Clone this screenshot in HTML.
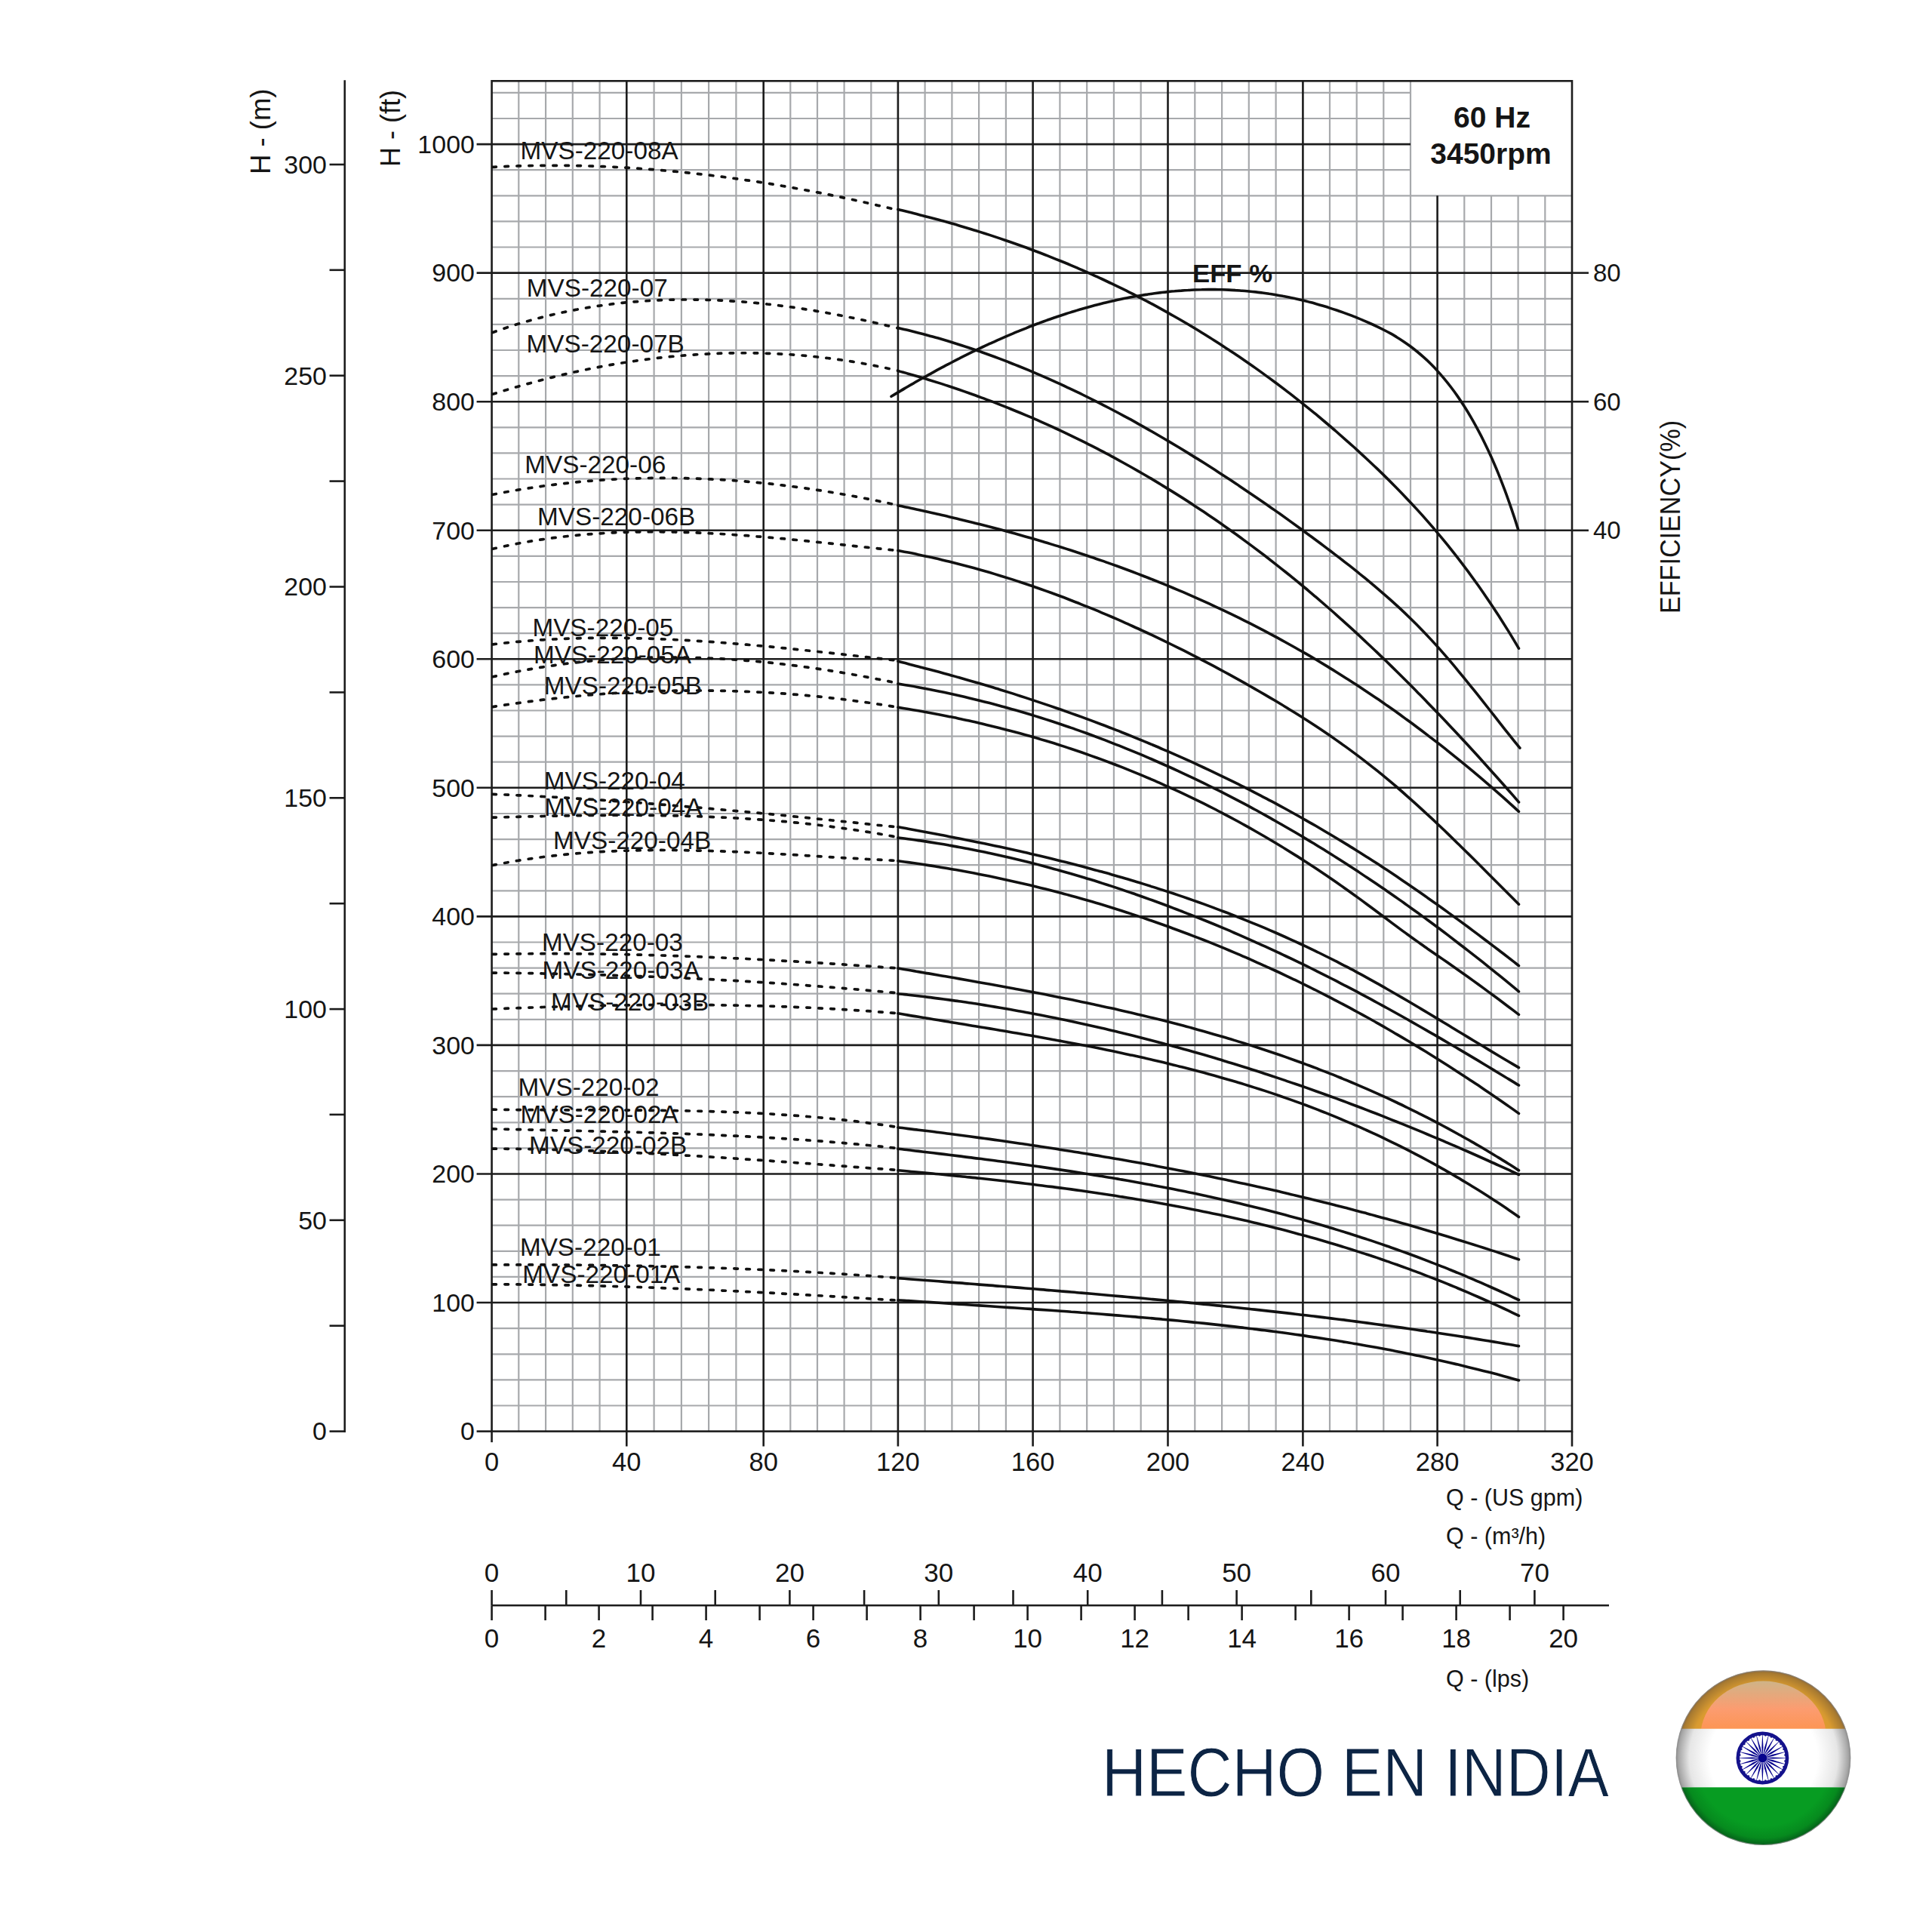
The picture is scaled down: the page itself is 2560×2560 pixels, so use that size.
<!DOCTYPE html>
<html><head><meta charset="utf-8"><style>
html,body{margin:0;padding:0;background:#fff;width:2560px;height:2560px;overflow:hidden}
svg{display:block}
text{font-family:"Liberation Sans", sans-serif;fill:#151515}
.big{font-family:"Liberation Sans", sans-serif;fill:#0c2444}
</style></head><body>
<svg width="2560" height="2560" viewBox="0 0 2560 2560">
<rect width="2560" height="2560" fill="#fff"/>
<line x1="687.3" y1="107.3" x2="687.3" y2="1896.6" stroke="#a7a9ac" stroke-width="2.2"/>
<line x1="723.1" y1="107.3" x2="723.1" y2="1896.6" stroke="#a7a9ac" stroke-width="2.2"/>
<line x1="758.8" y1="107.3" x2="758.8" y2="1896.6" stroke="#a7a9ac" stroke-width="2.2"/>
<line x1="794.6" y1="107.3" x2="794.6" y2="1896.6" stroke="#a7a9ac" stroke-width="2.2"/>
<line x1="866.6" y1="107.3" x2="866.6" y2="1896.6" stroke="#a7a9ac" stroke-width="2.2"/>
<line x1="902.9" y1="107.3" x2="902.9" y2="1896.6" stroke="#a7a9ac" stroke-width="2.2"/>
<line x1="939.1" y1="107.3" x2="939.1" y2="1896.6" stroke="#a7a9ac" stroke-width="2.2"/>
<line x1="975.4" y1="107.3" x2="975.4" y2="1896.6" stroke="#a7a9ac" stroke-width="2.2"/>
<line x1="1047.3" y1="107.3" x2="1047.3" y2="1896.6" stroke="#a7a9ac" stroke-width="2.2"/>
<line x1="1083.0" y1="107.3" x2="1083.0" y2="1896.6" stroke="#a7a9ac" stroke-width="2.2"/>
<line x1="1118.6" y1="107.3" x2="1118.6" y2="1896.6" stroke="#a7a9ac" stroke-width="2.2"/>
<line x1="1154.3" y1="107.3" x2="1154.3" y2="1896.6" stroke="#a7a9ac" stroke-width="2.2"/>
<line x1="1225.6" y1="107.3" x2="1225.6" y2="1896.6" stroke="#a7a9ac" stroke-width="2.2"/>
<line x1="1261.4" y1="107.3" x2="1261.4" y2="1896.6" stroke="#a7a9ac" stroke-width="2.2"/>
<line x1="1297.1" y1="107.3" x2="1297.1" y2="1896.6" stroke="#a7a9ac" stroke-width="2.2"/>
<line x1="1332.9" y1="107.3" x2="1332.9" y2="1896.6" stroke="#a7a9ac" stroke-width="2.2"/>
<line x1="1404.4" y1="107.3" x2="1404.4" y2="1896.6" stroke="#a7a9ac" stroke-width="2.2"/>
<line x1="1440.2" y1="107.3" x2="1440.2" y2="1896.6" stroke="#a7a9ac" stroke-width="2.2"/>
<line x1="1475.9" y1="107.3" x2="1475.9" y2="1896.6" stroke="#a7a9ac" stroke-width="2.2"/>
<line x1="1511.7" y1="107.3" x2="1511.7" y2="1896.6" stroke="#a7a9ac" stroke-width="2.2"/>
<line x1="1583.3" y1="107.3" x2="1583.3" y2="1896.6" stroke="#a7a9ac" stroke-width="2.2"/>
<line x1="1619.1" y1="107.3" x2="1619.1" y2="1896.6" stroke="#a7a9ac" stroke-width="2.2"/>
<line x1="1654.8" y1="107.3" x2="1654.8" y2="1896.6" stroke="#a7a9ac" stroke-width="2.2"/>
<line x1="1690.6" y1="107.3" x2="1690.6" y2="1896.6" stroke="#a7a9ac" stroke-width="2.2"/>
<line x1="1762.0" y1="107.3" x2="1762.0" y2="1896.6" stroke="#a7a9ac" stroke-width="2.2"/>
<line x1="1797.7" y1="107.3" x2="1797.7" y2="1896.6" stroke="#a7a9ac" stroke-width="2.2"/>
<line x1="1833.3" y1="107.3" x2="1833.3" y2="1896.6" stroke="#a7a9ac" stroke-width="2.2"/>
<line x1="1869.0" y1="107.3" x2="1869.0" y2="1896.6" stroke="#a7a9ac" stroke-width="2.2"/>
<line x1="1940.3" y1="259.3" x2="1940.3" y2="1896.6" stroke="#a7a9ac" stroke-width="2.2"/>
<line x1="1976.0" y1="259.3" x2="1976.0" y2="1896.6" stroke="#a7a9ac" stroke-width="2.2"/>
<line x1="2011.6" y1="259.3" x2="2011.6" y2="1896.6" stroke="#a7a9ac" stroke-width="2.2"/>
<line x1="2047.3" y1="259.3" x2="2047.3" y2="1896.6" stroke="#a7a9ac" stroke-width="2.2"/>
<line x1="651.6" y1="1862.5" x2="2083.0" y2="1862.5" stroke="#a7a9ac" stroke-width="2.2"/>
<line x1="651.6" y1="1828.4" x2="2083.0" y2="1828.4" stroke="#a7a9ac" stroke-width="2.2"/>
<line x1="651.6" y1="1794.3" x2="2083.0" y2="1794.3" stroke="#a7a9ac" stroke-width="2.2"/>
<line x1="651.6" y1="1760.2" x2="2083.0" y2="1760.2" stroke="#a7a9ac" stroke-width="2.2"/>
<line x1="651.6" y1="1691.9" x2="2083.0" y2="1691.9" stroke="#a7a9ac" stroke-width="2.2"/>
<line x1="651.6" y1="1657.8" x2="2083.0" y2="1657.8" stroke="#a7a9ac" stroke-width="2.2"/>
<line x1="651.6" y1="1623.7" x2="2083.0" y2="1623.7" stroke="#a7a9ac" stroke-width="2.2"/>
<line x1="651.6" y1="1589.6" x2="2083.0" y2="1589.6" stroke="#a7a9ac" stroke-width="2.2"/>
<line x1="651.6" y1="1521.4" x2="2083.0" y2="1521.4" stroke="#a7a9ac" stroke-width="2.2"/>
<line x1="651.6" y1="1487.3" x2="2083.0" y2="1487.3" stroke="#a7a9ac" stroke-width="2.2"/>
<line x1="651.6" y1="1453.2" x2="2083.0" y2="1453.2" stroke="#a7a9ac" stroke-width="2.2"/>
<line x1="651.6" y1="1419.1" x2="2083.0" y2="1419.1" stroke="#a7a9ac" stroke-width="2.2"/>
<line x1="651.6" y1="1350.8" x2="2083.0" y2="1350.8" stroke="#a7a9ac" stroke-width="2.2"/>
<line x1="651.6" y1="1316.7" x2="2083.0" y2="1316.7" stroke="#a7a9ac" stroke-width="2.2"/>
<line x1="651.6" y1="1282.6" x2="2083.0" y2="1282.6" stroke="#a7a9ac" stroke-width="2.2"/>
<line x1="651.6" y1="1248.5" x2="2083.0" y2="1248.5" stroke="#a7a9ac" stroke-width="2.2"/>
<line x1="651.6" y1="1180.3" x2="2083.0" y2="1180.3" stroke="#a7a9ac" stroke-width="2.2"/>
<line x1="651.6" y1="1146.2" x2="2083.0" y2="1146.2" stroke="#a7a9ac" stroke-width="2.2"/>
<line x1="651.6" y1="1112.1" x2="2083.0" y2="1112.1" stroke="#a7a9ac" stroke-width="2.2"/>
<line x1="651.6" y1="1078.0" x2="2083.0" y2="1078.0" stroke="#a7a9ac" stroke-width="2.2"/>
<line x1="651.6" y1="1009.7" x2="2083.0" y2="1009.7" stroke="#a7a9ac" stroke-width="2.2"/>
<line x1="651.6" y1="975.6" x2="2083.0" y2="975.6" stroke="#a7a9ac" stroke-width="2.2"/>
<line x1="651.6" y1="941.5" x2="2083.0" y2="941.5" stroke="#a7a9ac" stroke-width="2.2"/>
<line x1="651.6" y1="907.4" x2="2083.0" y2="907.4" stroke="#a7a9ac" stroke-width="2.2"/>
<line x1="651.6" y1="839.2" x2="2083.0" y2="839.2" stroke="#a7a9ac" stroke-width="2.2"/>
<line x1="651.6" y1="805.1" x2="2083.0" y2="805.1" stroke="#a7a9ac" stroke-width="2.2"/>
<line x1="651.6" y1="771.0" x2="2083.0" y2="771.0" stroke="#a7a9ac" stroke-width="2.2"/>
<line x1="651.6" y1="736.9" x2="2083.0" y2="736.9" stroke="#a7a9ac" stroke-width="2.2"/>
<line x1="651.6" y1="668.6" x2="2083.0" y2="668.6" stroke="#a7a9ac" stroke-width="2.2"/>
<line x1="651.6" y1="634.5" x2="2083.0" y2="634.5" stroke="#a7a9ac" stroke-width="2.2"/>
<line x1="651.6" y1="600.4" x2="2083.0" y2="600.4" stroke="#a7a9ac" stroke-width="2.2"/>
<line x1="651.6" y1="566.3" x2="2083.0" y2="566.3" stroke="#a7a9ac" stroke-width="2.2"/>
<line x1="651.6" y1="498.1" x2="2083.0" y2="498.1" stroke="#a7a9ac" stroke-width="2.2"/>
<line x1="651.6" y1="464.0" x2="2083.0" y2="464.0" stroke="#a7a9ac" stroke-width="2.2"/>
<line x1="651.6" y1="429.9" x2="2083.0" y2="429.9" stroke="#a7a9ac" stroke-width="2.2"/>
<line x1="651.6" y1="395.8" x2="2083.0" y2="395.8" stroke="#a7a9ac" stroke-width="2.2"/>
<line x1="651.6" y1="327.5" x2="2083.0" y2="327.5" stroke="#a7a9ac" stroke-width="2.2"/>
<line x1="651.6" y1="293.4" x2="2083.0" y2="293.4" stroke="#a7a9ac" stroke-width="2.2"/>
<line x1="651.6" y1="259.3" x2="2083.0" y2="259.3" stroke="#a7a9ac" stroke-width="2.2"/>
<line x1="651.6" y1="225.2" x2="1869.0" y2="225.2" stroke="#a7a9ac" stroke-width="2.2"/>
<line x1="651.6" y1="157.0" x2="1869.0" y2="157.0" stroke="#a7a9ac" stroke-width="2.2"/>
<line x1="651.6" y1="122.9" x2="1869.0" y2="122.9" stroke="#a7a9ac" stroke-width="2.2"/>
<line x1="830.3" y1="107.3" x2="830.3" y2="1916.6" stroke="#1c1c1c" stroke-width="2.6"/>
<line x1="1011.7" y1="107.3" x2="1011.7" y2="1916.6" stroke="#1c1c1c" stroke-width="2.6"/>
<line x1="1189.9" y1="107.3" x2="1189.9" y2="1916.6" stroke="#1c1c1c" stroke-width="2.6"/>
<line x1="1368.6" y1="107.3" x2="1368.6" y2="1916.6" stroke="#1c1c1c" stroke-width="2.6"/>
<line x1="1547.5" y1="107.3" x2="1547.5" y2="1916.6" stroke="#1c1c1c" stroke-width="2.6"/>
<line x1="1726.4" y1="107.3" x2="1726.4" y2="1916.6" stroke="#1c1c1c" stroke-width="2.6"/>
<line x1="1904.6" y1="259.3" x2="1904.6" y2="1916.6" stroke="#1c1c1c" stroke-width="2.6"/>
<line x1="631.6" y1="1726.0" x2="2083.0" y2="1726.0" stroke="#1c1c1c" stroke-width="2.6"/>
<line x1="631.6" y1="1555.5" x2="2083.0" y2="1555.5" stroke="#1c1c1c" stroke-width="2.6"/>
<line x1="631.6" y1="1384.9" x2="2083.0" y2="1384.9" stroke="#1c1c1c" stroke-width="2.6"/>
<line x1="631.6" y1="1214.4" x2="2083.0" y2="1214.4" stroke="#1c1c1c" stroke-width="2.6"/>
<line x1="631.6" y1="1043.8" x2="2083.0" y2="1043.8" stroke="#1c1c1c" stroke-width="2.6"/>
<line x1="631.6" y1="873.3" x2="2083.0" y2="873.3" stroke="#1c1c1c" stroke-width="2.6"/>
<line x1="631.6" y1="702.8" x2="2083.0" y2="702.8" stroke="#1c1c1c" stroke-width="2.6"/>
<line x1="631.6" y1="532.2" x2="2083.0" y2="532.2" stroke="#1c1c1c" stroke-width="2.6"/>
<line x1="631.6" y1="361.6" x2="2083.0" y2="361.6" stroke="#1c1c1c" stroke-width="2.6"/>
<line x1="631.6" y1="191.1" x2="1869.0" y2="191.1" stroke="#1c1c1c" stroke-width="2.6"/>
<rect x="651.6" y="107.3" width="1431.4" height="1789.3" fill="none" stroke="#1c1c1c" stroke-width="2.6"/>
<line x1="631.6" y1="1896.6" x2="651.6" y2="1896.6" stroke="#1c1c1c" stroke-width="2.6"/>
<line x1="651.6" y1="1896.6" x2="651.6" y2="1911.1" stroke="#1c1c1c" stroke-width="2.6"/>
<line x1="2083.0" y1="1896.6" x2="2083.0" y2="1916.6" stroke="#1c1c1c" stroke-width="2.6"/>
<line x1="2083.0" y1="361.6" x2="2105.0" y2="361.6" stroke="#1c1c1c" stroke-width="2.6"/>
<text x="2111.0" y="373.1" font-size="33">80</text>
<line x1="2083.0" y1="532.2" x2="2105.0" y2="532.2" stroke="#1c1c1c" stroke-width="2.6"/>
<text x="2111.0" y="543.7" font-size="33">60</text>
<line x1="2083.0" y1="702.8" x2="2105.0" y2="702.8" stroke="#1c1c1c" stroke-width="2.6"/>
<text x="2111.0" y="714.2" font-size="33">40</text>
<text x="629" y="1908.4" font-size="34" text-anchor="end">0</text>
<text x="629" y="1737.8" font-size="34" text-anchor="end">100</text>
<text x="629" y="1567.3" font-size="34" text-anchor="end">200</text>
<text x="629" y="1396.7" font-size="34" text-anchor="end">300</text>
<text x="629" y="1226.2" font-size="34" text-anchor="end">400</text>
<text x="629" y="1055.6" font-size="34" text-anchor="end">500</text>
<text x="629" y="885.1" font-size="34" text-anchor="end">600</text>
<text x="629" y="714.5" font-size="34" text-anchor="end">700</text>
<text x="629" y="544.0" font-size="34" text-anchor="end">800</text>
<text x="629" y="373.4" font-size="34" text-anchor="end">900</text>
<text x="629" y="202.9" font-size="34" text-anchor="end">1000</text>
<text x="651.6" y="1949.4" font-size="34.5" text-anchor="middle">0</text>
<text x="830.3" y="1949.4" font-size="34.5" text-anchor="middle">40</text>
<text x="1011.7" y="1949.4" font-size="34.5" text-anchor="middle">80</text>
<text x="1189.9" y="1949.4" font-size="34.5" text-anchor="middle">120</text>
<text x="1368.6" y="1949.4" font-size="34.5" text-anchor="middle">160</text>
<text x="1547.5" y="1949.4" font-size="34.5" text-anchor="middle">200</text>
<text x="1726.4" y="1949.4" font-size="34.5" text-anchor="middle">240</text>
<text x="1904.6" y="1949.4" font-size="34.5" text-anchor="middle">280</text>
<text x="2083.0" y="1949.4" font-size="34.5" text-anchor="middle">320</text>
<line x1="456.8" y1="106.3" x2="456.8" y2="1898.0" stroke="#1c1c1c" stroke-width="2.6"/>
<line x1="436.6" y1="1896.6" x2="456.8" y2="1896.6" stroke="#1c1c1c" stroke-width="2.6"/>
<text x="433" y="1908.4" font-size="34" text-anchor="end">0</text>
<line x1="436.6" y1="1756.7" x2="456.8" y2="1756.7" stroke="#1c1c1c" stroke-width="2.6"/>
<line x1="436.6" y1="1616.8" x2="456.8" y2="1616.8" stroke="#1c1c1c" stroke-width="2.6"/>
<text x="433" y="1628.6" font-size="34" text-anchor="end">50</text>
<line x1="436.6" y1="1476.9" x2="456.8" y2="1476.9" stroke="#1c1c1c" stroke-width="2.6"/>
<line x1="436.6" y1="1337.1" x2="456.8" y2="1337.1" stroke="#1c1c1c" stroke-width="2.6"/>
<text x="433" y="1348.9" font-size="34" text-anchor="end">100</text>
<line x1="436.6" y1="1197.2" x2="456.8" y2="1197.2" stroke="#1c1c1c" stroke-width="2.6"/>
<line x1="436.6" y1="1057.3" x2="456.8" y2="1057.3" stroke="#1c1c1c" stroke-width="2.6"/>
<text x="433" y="1069.1" font-size="34" text-anchor="end">150</text>
<line x1="436.6" y1="917.4" x2="456.8" y2="917.4" stroke="#1c1c1c" stroke-width="2.6"/>
<line x1="436.6" y1="777.5" x2="456.8" y2="777.5" stroke="#1c1c1c" stroke-width="2.6"/>
<text x="433" y="789.3" font-size="34" text-anchor="end">200</text>
<line x1="436.6" y1="637.6" x2="456.8" y2="637.6" stroke="#1c1c1c" stroke-width="2.6"/>
<line x1="436.6" y1="497.7" x2="456.8" y2="497.7" stroke="#1c1c1c" stroke-width="2.6"/>
<text x="433" y="509.5" font-size="34" text-anchor="end">250</text>
<line x1="436.6" y1="357.8" x2="456.8" y2="357.8" stroke="#1c1c1c" stroke-width="2.6"/>
<line x1="436.6" y1="218.0" x2="456.8" y2="218.0" stroke="#1c1c1c" stroke-width="2.6"/>
<text x="433" y="229.8" font-size="34" text-anchor="end">300</text>
<text transform="translate(358,231) rotate(-90)" font-size="36.5">H - (m)</text>
<text transform="translate(529.5,221) rotate(-90)" font-size="36">H - (ft)</text>
<text transform="translate(2225.5,813) rotate(-90)" font-size="36" textLength="256" lengthAdjust="spacingAndGlyphs">EFFICIENCY(%)</text>
<text x="1977" y="169" font-size="39" font-weight="bold" text-anchor="middle">60 Hz</text>
<text x="1975.5" y="216.6" font-size="39" font-weight="bold" text-anchor="middle">3450rpm</text>
<text x="1580" y="374" font-size="34" font-weight="bold" textLength="106" lengthAdjust="spacingAndGlyphs">EFF %</text>
<text x="1916" y="1995" font-size="30.5">Q - (US gpm)</text>
<text x="1916" y="2045.6" font-size="30.5">Q - (m³/h)</text>
<text x="1916" y="2234.8" font-size="30.5">Q - (lps)</text>
<line x1="651.6" y1="2127.2" x2="2132" y2="2127.2" stroke="#1c1c1c" stroke-width="2.6"/>
<line x1="651.6" y1="2107" x2="651.6" y2="2127.2" stroke="#1c1c1c" stroke-width="2.6"/>
<text x="651.6" y="2096" font-size="35" text-anchor="middle">0</text>
<line x1="750.3" y1="2107" x2="750.3" y2="2127.2" stroke="#1c1c1c" stroke-width="2.6"/>
<line x1="849.0" y1="2107" x2="849.0" y2="2127.2" stroke="#1c1c1c" stroke-width="2.6"/>
<text x="849.0" y="2096" font-size="35" text-anchor="middle">10</text>
<line x1="947.7" y1="2107" x2="947.7" y2="2127.2" stroke="#1c1c1c" stroke-width="2.6"/>
<line x1="1046.4" y1="2107" x2="1046.4" y2="2127.2" stroke="#1c1c1c" stroke-width="2.6"/>
<text x="1046.4" y="2096" font-size="35" text-anchor="middle">20</text>
<line x1="1145.1" y1="2107" x2="1145.1" y2="2127.2" stroke="#1c1c1c" stroke-width="2.6"/>
<line x1="1243.8" y1="2107" x2="1243.8" y2="2127.2" stroke="#1c1c1c" stroke-width="2.6"/>
<text x="1243.8" y="2096" font-size="35" text-anchor="middle">30</text>
<line x1="1342.5" y1="2107" x2="1342.5" y2="2127.2" stroke="#1c1c1c" stroke-width="2.6"/>
<line x1="1441.2" y1="2107" x2="1441.2" y2="2127.2" stroke="#1c1c1c" stroke-width="2.6"/>
<text x="1441.2" y="2096" font-size="35" text-anchor="middle">40</text>
<line x1="1539.9" y1="2107" x2="1539.9" y2="2127.2" stroke="#1c1c1c" stroke-width="2.6"/>
<line x1="1638.6" y1="2107" x2="1638.6" y2="2127.2" stroke="#1c1c1c" stroke-width="2.6"/>
<text x="1638.6" y="2096" font-size="35" text-anchor="middle">50</text>
<line x1="1737.3" y1="2107" x2="1737.3" y2="2127.2" stroke="#1c1c1c" stroke-width="2.6"/>
<line x1="1836.0" y1="2107" x2="1836.0" y2="2127.2" stroke="#1c1c1c" stroke-width="2.6"/>
<text x="1836.0" y="2096" font-size="35" text-anchor="middle">60</text>
<line x1="1934.7" y1="2107" x2="1934.7" y2="2127.2" stroke="#1c1c1c" stroke-width="2.6"/>
<line x1="2033.4" y1="2107" x2="2033.4" y2="2127.2" stroke="#1c1c1c" stroke-width="2.6"/>
<text x="2033.4" y="2096" font-size="35" text-anchor="middle">70</text>
<line x1="651.6" y1="2127.2" x2="651.6" y2="2147" stroke="#1c1c1c" stroke-width="2.6"/>
<text x="651.6" y="2182.6" font-size="35" text-anchor="middle">0</text>
<line x1="722.6" y1="2127.2" x2="722.6" y2="2147" stroke="#1c1c1c" stroke-width="2.6"/>
<line x1="793.6" y1="2127.2" x2="793.6" y2="2147" stroke="#1c1c1c" stroke-width="2.6"/>
<text x="793.6" y="2182.6" font-size="35" text-anchor="middle">2</text>
<line x1="864.6" y1="2127.2" x2="864.6" y2="2147" stroke="#1c1c1c" stroke-width="2.6"/>
<line x1="935.6" y1="2127.2" x2="935.6" y2="2147" stroke="#1c1c1c" stroke-width="2.6"/>
<text x="935.6" y="2182.6" font-size="35" text-anchor="middle">4</text>
<line x1="1006.6" y1="2127.2" x2="1006.6" y2="2147" stroke="#1c1c1c" stroke-width="2.6"/>
<line x1="1077.6" y1="2127.2" x2="1077.6" y2="2147" stroke="#1c1c1c" stroke-width="2.6"/>
<text x="1077.6" y="2182.6" font-size="35" text-anchor="middle">6</text>
<line x1="1148.6" y1="2127.2" x2="1148.6" y2="2147" stroke="#1c1c1c" stroke-width="2.6"/>
<line x1="1219.6" y1="2127.2" x2="1219.6" y2="2147" stroke="#1c1c1c" stroke-width="2.6"/>
<text x="1219.6" y="2182.6" font-size="35" text-anchor="middle">8</text>
<line x1="1290.6" y1="2127.2" x2="1290.6" y2="2147" stroke="#1c1c1c" stroke-width="2.6"/>
<line x1="1361.6" y1="2127.2" x2="1361.6" y2="2147" stroke="#1c1c1c" stroke-width="2.6"/>
<text x="1361.6" y="2182.6" font-size="35" text-anchor="middle">10</text>
<line x1="1432.6" y1="2127.2" x2="1432.6" y2="2147" stroke="#1c1c1c" stroke-width="2.6"/>
<line x1="1503.6" y1="2127.2" x2="1503.6" y2="2147" stroke="#1c1c1c" stroke-width="2.6"/>
<text x="1503.6" y="2182.6" font-size="35" text-anchor="middle">12</text>
<line x1="1574.6" y1="2127.2" x2="1574.6" y2="2147" stroke="#1c1c1c" stroke-width="2.6"/>
<line x1="1645.6" y1="2127.2" x2="1645.6" y2="2147" stroke="#1c1c1c" stroke-width="2.6"/>
<text x="1645.6" y="2182.6" font-size="35" text-anchor="middle">14</text>
<line x1="1716.6" y1="2127.2" x2="1716.6" y2="2147" stroke="#1c1c1c" stroke-width="2.6"/>
<line x1="1787.6" y1="2127.2" x2="1787.6" y2="2147" stroke="#1c1c1c" stroke-width="2.6"/>
<text x="1787.6" y="2182.6" font-size="35" text-anchor="middle">16</text>
<line x1="1858.6" y1="2127.2" x2="1858.6" y2="2147" stroke="#1c1c1c" stroke-width="2.6"/>
<line x1="1929.6" y1="2127.2" x2="1929.6" y2="2147" stroke="#1c1c1c" stroke-width="2.6"/>
<text x="1929.6" y="2182.6" font-size="35" text-anchor="middle">18</text>
<line x1="2000.6" y1="2127.2" x2="2000.6" y2="2147" stroke="#1c1c1c" stroke-width="2.6"/>
<line x1="2071.6" y1="2127.2" x2="2071.6" y2="2147" stroke="#1c1c1c" stroke-width="2.6"/>
<text x="2071.6" y="2182.6" font-size="35" text-anchor="middle">20</text>

<path d="M652.9,221.4C655.2,221.2 661.9,220.9 666.3,220.7C670.8,220.5 675.2,220.3 679.7,220.2C684.1,220.0 688.6,219.9 693.0,219.8C697.5,219.7 702.0,219.6 706.4,219.5C710.9,219.4 715.3,219.4 719.8,219.3C724.2,219.3 728.7,219.3 733.2,219.3C737.6,219.3 742.1,219.3 746.5,219.3C751.0,219.4 755.4,219.4 759.9,219.5C764.3,219.6 768.8,219.7 773.3,219.8C777.7,219.9 782.2,220.0 786.6,220.2C791.1,220.3 795.5,220.5 800.0,220.7C804.5,220.9 808.9,221.1 813.4,221.3C817.8,221.5 822.3,221.8 826.7,222.0C831.2,222.3 835.7,222.6 840.3,222.9C844.8,223.2 849.3,223.5 853.8,223.8C858.3,224.1 862.9,224.5 867.4,224.9C871.9,225.2 876.4,225.6 881.0,226.0C885.5,226.4 890.0,226.8 894.5,227.2C899.1,227.7 903.6,228.1 908.1,228.6C912.6,229.1 917.2,229.6 921.7,230.1C926.2,230.6 930.7,231.1 935.3,231.6C939.8,232.1 944.3,232.7 948.8,233.3C953.3,233.8 957.9,234.4 962.4,235.0C966.9,235.6 971.4,236.2 976.0,236.8C980.5,237.5 985.0,238.1 989.5,238.8C994.1,239.4 998.6,240.1 1003.1,240.8C1007.6,241.5 1012.1,242.2 1016.6,242.9C1021.1,243.7 1025.5,244.4 1029.9,245.2C1034.4,245.9 1038.8,246.7 1043.3,247.5C1047.7,248.3 1052.1,249.1 1056.6,249.9C1061.0,250.7 1065.5,251.5 1069.9,252.4C1074.4,253.2 1078.8,254.1 1083.2,254.9C1087.7,255.8 1092.1,256.7 1096.6,257.6C1101.0,258.5 1105.5,259.4 1109.9,260.3C1114.4,261.3 1118.8,262.2 1123.2,263.2C1127.7,264.1 1132.1,265.1 1136.6,266.1C1141.0,267.1 1145.5,268.1 1149.9,269.1C1154.3,270.1 1158.8,271.1 1163.2,272.2C1167.7,273.2 1172.1,274.3 1176.6,275.3C1181.0,276.4 1187.7,278.0 1189.9,278.6" fill="none" stroke="#111" stroke-width="3.7" stroke-dasharray="4.6 11.4" stroke-linecap="round"/>
<path d="M1189.9,277.5C1192.1,278.1 1198.9,279.7 1203.4,280.8C1207.9,281.9 1212.4,283.0 1216.9,284.2C1221.4,285.3 1225.9,286.5 1230.4,287.7C1234.9,288.9 1239.4,290.1 1243.9,291.3C1248.4,292.5 1252.9,293.8 1257.4,295.1C1261.8,296.3 1266.3,297.6 1270.8,298.9C1275.3,300.3 1279.8,301.6 1284.3,303.0C1288.8,304.3 1293.3,305.7 1297.8,307.1C1302.3,308.5 1306.8,310.0 1311.3,311.4C1315.8,312.9 1320.3,314.4 1324.8,315.9C1329.3,317.4 1333.8,319.0 1338.3,320.5C1342.8,322.1 1347.3,323.7 1351.8,325.3C1356.3,326.9 1360.8,328.5 1365.3,330.2C1369.8,331.9 1374.3,333.6 1378.8,335.3C1383.3,337.0 1387.8,338.8 1392.3,340.6C1396.8,342.4 1401.3,344.2 1405.8,346.0C1410.3,347.8 1414.8,349.7 1419.3,351.6C1423.8,353.5 1428.3,355.4 1432.8,357.4C1437.3,359.4 1441.8,361.3 1446.3,363.4C1450.8,365.4 1455.3,367.4 1459.8,369.5C1464.3,371.6 1468.8,373.7 1473.3,375.9C1477.8,378.0 1482.3,380.2 1486.8,382.4C1491.3,384.6 1495.8,386.9 1500.3,389.2C1504.8,391.4 1509.3,393.8 1513.8,396.1C1518.3,398.4 1522.8,400.8 1527.3,403.2C1531.8,405.7 1536.3,408.1 1540.8,410.6C1545.3,413.1 1549.8,415.6 1554.3,418.2C1558.8,420.7 1563.4,423.3 1567.9,426.0C1572.4,428.6 1576.9,431.3 1581.4,434.0C1585.9,436.7 1590.4,439.4 1594.9,442.2C1599.4,445.0 1603.9,447.8 1608.4,450.7C1612.9,453.5 1617.4,456.4 1621.9,459.4C1626.4,462.3 1630.9,465.3 1635.4,468.3C1639.9,471.3 1644.4,474.4 1648.9,477.5C1653.4,480.6 1657.9,483.7 1662.4,486.9C1666.9,490.1 1671.4,493.3 1675.9,496.6C1680.4,499.8 1684.9,503.1 1689.4,506.5C1693.9,509.8 1698.4,513.2 1702.9,516.7C1707.4,520.1 1711.9,523.6 1716.4,527.1C1720.9,530.6 1725.4,534.2 1729.9,537.8C1734.4,541.4 1738.9,545.0 1743.4,548.7C1747.8,552.4 1752.3,556.2 1756.8,560.0C1761.3,563.8 1765.8,567.6 1770.3,571.5C1774.7,575.4 1779.2,579.3 1783.7,583.3C1788.2,587.2 1792.7,591.3 1797.2,595.3C1801.7,599.4 1806.1,603.5 1810.6,607.7C1815.1,611.9 1819.6,616.1 1824.1,620.4C1828.6,624.7 1833.0,629.0 1837.5,633.4C1842.0,637.9 1846.5,642.4 1851.0,646.9C1855.5,651.5 1859.9,656.1 1864.4,660.9C1868.9,665.6 1873.4,670.4 1877.9,675.4C1882.4,680.3 1886.9,685.3 1891.3,690.4C1895.8,695.5 1900.3,700.7 1904.8,706.1C1909.3,711.4 1913.8,716.8 1918.3,722.4C1922.7,728.0 1927.2,733.6 1931.7,739.4C1936.2,745.2 1940.7,751.2 1945.2,757.2C1949.7,763.3 1954.2,769.5 1958.7,775.8C1963.2,782.2 1967.6,788.6 1972.1,795.3C1976.6,801.9 1981.1,808.7 1985.6,815.6C1990.1,822.6 1994.6,829.7 1999.1,836.9C2003.6,844.2 2010.3,855.5 2012.5,859.2" fill="none" stroke="#111" stroke-width="3.6" stroke-linecap="round" stroke-linejoin="round"/>
<path d="M652.9,440.5C655.2,439.7 661.9,437.3 666.3,435.8C670.8,434.3 675.2,432.8 679.7,431.4C684.1,430.0 688.6,428.7 693.0,427.3C697.5,426.0 702.0,424.8 706.4,423.5C710.9,422.3 715.3,421.1 719.8,420.0C724.2,418.9 728.7,417.8 733.2,416.7C737.6,415.7 742.1,414.7 746.5,413.7C751.0,412.8 755.4,411.9 759.9,411.0C764.3,410.1 768.8,409.3 773.3,408.5C777.7,407.8 782.2,407.0 786.6,406.3C791.1,405.6 795.5,405.0 800.0,404.3C804.5,403.7 808.9,403.2 813.4,402.6C817.8,402.1 822.3,401.6 826.7,401.1C831.2,400.7 835.7,400.3 840.3,399.9C844.8,399.5 849.3,399.2 853.8,398.9C858.3,398.6 862.9,398.3 867.4,398.1C871.9,397.8 876.4,397.7 881.0,397.5C885.5,397.3 890.0,397.2 894.5,397.1C899.1,397.1 903.6,397.0 908.1,397.0C912.6,397.0 917.2,397.0 921.7,397.1C926.2,397.1 930.7,397.2 935.3,397.3C939.8,397.5 944.3,397.6 948.8,397.8C953.3,398.0 957.9,398.2 962.4,398.5C966.9,398.7 971.4,399.0 976.0,399.3C980.5,399.6 985.0,400.0 989.5,400.3C994.1,400.7 998.6,401.1 1003.1,401.6C1007.6,402.0 1012.1,402.5 1016.6,403.0C1021.1,403.4 1025.5,404.0 1029.9,404.5C1034.4,405.1 1038.8,405.6 1043.3,406.2C1047.7,406.8 1052.1,407.5 1056.6,408.1C1061.0,408.8 1065.5,409.5 1069.9,410.2C1074.4,410.9 1078.8,411.6 1083.2,412.4C1087.7,413.1 1092.1,413.9 1096.6,414.7C1101.0,415.5 1105.5,416.4 1109.9,417.2C1114.4,418.1 1118.8,419.0 1123.2,419.9C1127.7,420.8 1132.1,421.7 1136.6,422.6C1141.0,423.6 1145.5,424.5 1149.9,425.5C1154.3,426.5 1158.8,427.5 1163.2,428.5C1167.7,429.6 1172.1,430.6 1176.6,431.7C1181.0,432.7 1187.7,434.4 1189.9,434.9" fill="none" stroke="#111" stroke-width="3.7" stroke-dasharray="4.6 11.4" stroke-linecap="round"/>
<path d="M1189.9,434.5C1192.1,435.0 1198.8,436.5 1203.2,437.6C1207.6,438.7 1212.1,439.8 1216.5,440.9C1220.9,442.0 1225.4,443.2 1229.8,444.4C1234.2,445.6 1238.6,446.9 1243.1,448.1C1247.5,449.4 1251.9,450.7 1256.4,452.0C1260.8,453.4 1265.2,454.8 1269.7,456.2C1274.1,457.6 1278.5,459.0 1283.0,460.5C1287.4,462.0 1291.8,463.5 1296.3,465.0C1300.7,466.5 1305.1,468.1 1309.5,469.7C1314.0,471.3 1318.4,472.9 1322.8,474.6C1327.3,476.3 1331.7,478.0 1336.1,479.7C1340.6,481.4 1345.0,483.2 1349.4,485.0C1353.9,486.8 1358.3,488.6 1362.7,490.4C1367.2,492.3 1371.6,494.2 1376.0,496.1C1380.5,498.0 1384.9,499.9 1389.3,501.9C1393.8,503.9 1398.2,505.9 1402.6,507.9C1407.1,509.9 1411.5,512.0 1416.0,514.1C1420.4,516.2 1424.8,518.3 1429.3,520.4C1433.7,522.6 1438.1,524.7 1442.6,527.0C1447.0,529.2 1451.4,531.4 1455.9,533.6C1460.3,535.9 1464.8,538.2 1469.2,540.5C1473.6,542.8 1478.1,545.2 1482.5,547.5C1486.9,549.9 1491.4,552.3 1495.8,554.7C1500.3,557.1 1504.7,559.6 1509.1,562.1C1513.6,564.5 1518.0,567.0 1522.4,569.6C1526.9,572.1 1531.3,574.7 1535.7,577.2C1540.2,579.8 1544.6,582.4 1549.1,585.1C1553.5,587.7 1557.9,590.3 1562.4,593.0C1566.8,595.7 1571.2,598.4 1575.7,601.1C1580.1,603.9 1584.5,606.6 1589.0,609.4C1593.4,612.2 1597.9,615.0 1602.3,617.8C1606.7,620.6 1611.2,623.5 1615.6,626.4C1620.0,629.3 1624.5,632.2 1628.9,635.1C1633.3,638.0 1637.8,640.9 1642.2,643.9C1646.7,646.9 1651.1,649.9 1655.5,652.9C1660.0,655.9 1664.4,658.9 1668.8,662.0C1673.3,665.0 1677.7,668.1 1682.1,671.2C1686.6,674.3 1691.0,677.5 1695.5,680.6C1699.9,683.7 1704.3,686.9 1708.8,690.1C1713.2,693.3 1717.6,696.5 1722.1,699.7C1726.5,702.9 1730.9,706.2 1735.3,709.5C1739.8,712.7 1744.2,716.0 1748.6,719.3C1753.0,722.6 1757.4,726.0 1761.9,729.3C1766.3,732.7 1770.7,736.0 1775.1,739.4C1779.5,742.8 1784.0,746.3 1788.4,749.7C1792.8,753.2 1797.2,756.7 1801.6,760.3C1806.1,763.8 1810.5,767.4 1814.9,771.1C1819.3,774.8 1823.7,778.5 1828.1,782.3C1832.6,786.1 1837.0,789.9 1841.4,793.9C1845.8,797.8 1850.2,801.8 1854.7,805.9C1859.1,810.0 1863.5,814.2 1867.9,818.5C1872.3,822.8 1876.8,827.2 1881.2,831.7C1885.6,836.2 1890.0,840.8 1894.4,845.6C1898.9,850.3 1903.3,855.2 1907.7,860.1C1912.1,865.1 1916.5,870.2 1921.0,875.4C1925.4,880.6 1929.8,885.9 1934.2,891.3C1938.7,896.6 1943.1,902.1 1947.5,907.6C1951.9,913.1 1956.4,918.6 1960.8,924.2C1965.2,929.8 1969.6,935.4 1974.1,941.0C1978.5,946.6 1982.9,952.3 1987.3,957.9C1991.7,963.5 1996.2,969.1 2000.6,974.7C2005.0,980.2 2011.7,988.4 2013.9,991.2" fill="none" stroke="#111" stroke-width="3.6" stroke-linecap="round" stroke-linejoin="round"/>
<path d="M652.9,522.3C655.2,521.6 661.9,519.5 666.3,518.1C670.8,516.8 675.2,515.4 679.7,514.1C684.1,512.8 688.6,511.5 693.0,510.3C697.5,509.0 702.0,507.8 706.4,506.6C710.9,505.3 715.3,504.2 719.8,503.0C724.2,501.8 728.7,500.7 733.2,499.6C737.6,498.5 742.1,497.4 746.5,496.4C751.0,495.3 755.4,494.3 759.9,493.3C764.3,492.3 768.8,491.4 773.3,490.4C777.7,489.5 782.2,488.6 786.6,487.7C791.1,486.8 795.5,486.0 800.0,485.1C804.5,484.3 808.9,483.5 813.4,482.7C817.8,482.0 822.3,481.2 826.7,480.5C831.2,479.8 835.7,479.1 840.3,478.5C844.8,477.8 849.3,477.2 853.8,476.6C858.3,476.0 862.9,475.4 867.4,474.9C871.9,474.3 876.4,473.8 881.0,473.4C885.5,472.9 890.0,472.4 894.5,472.0C899.1,471.6 903.6,471.2 908.1,470.8C912.6,470.5 917.2,470.2 921.7,469.9C926.2,469.6 930.7,469.3 935.3,469.1C939.8,468.8 944.3,468.6 948.8,468.5C953.3,468.3 957.9,468.1 962.4,468.0C966.9,467.9 971.4,467.8 976.0,467.8C980.5,467.8 985.0,467.7 989.5,467.8C994.1,467.8 998.6,467.8 1003.1,467.9C1007.6,468.0 1012.1,468.1 1016.6,468.3C1021.1,468.4 1025.5,468.6 1029.9,468.8C1034.4,469.0 1038.8,469.3 1043.3,469.5C1047.7,469.8 1052.1,470.1 1056.6,470.5C1061.0,470.8 1065.5,471.2 1069.9,471.6C1074.4,472.0 1078.8,472.5 1083.2,473.0C1087.7,473.4 1092.1,474.0 1096.6,474.5C1101.0,475.1 1105.5,475.6 1109.9,476.3C1114.4,476.9 1118.8,477.5 1123.2,478.2C1127.7,478.9 1132.1,479.6 1136.6,480.4C1141.0,481.2 1145.5,481.9 1149.9,482.8C1154.3,483.6 1158.8,484.5 1163.2,485.4C1167.7,486.3 1172.1,487.2 1176.6,488.2C1181.0,489.2 1187.7,490.7 1189.9,491.2" fill="none" stroke="#111" stroke-width="3.7" stroke-dasharray="4.6 11.4" stroke-linecap="round"/>
<path d="M1189.9,491.4C1192.1,492.1 1198.9,493.9 1203.4,495.2C1207.9,496.5 1212.4,497.8 1216.9,499.1C1221.4,500.4 1225.9,501.8 1230.4,503.2C1234.9,504.6 1239.4,506.0 1243.9,507.4C1248.4,508.8 1252.9,510.3 1257.4,511.8C1261.8,513.3 1266.3,514.8 1270.8,516.3C1275.3,517.9 1279.8,519.4 1284.3,521.0C1288.8,522.6 1293.3,524.2 1297.8,525.9C1302.3,527.5 1306.8,529.2 1311.3,530.9C1315.8,532.6 1320.3,534.3 1324.8,536.1C1329.3,537.9 1333.8,539.6 1338.3,541.5C1342.8,543.3 1347.3,545.1 1351.8,547.0C1356.3,548.9 1360.8,550.8 1365.3,552.7C1369.8,554.6 1374.3,556.6 1378.8,558.6C1383.3,560.6 1387.8,562.6 1392.3,564.6C1396.8,566.7 1401.3,568.8 1405.8,570.9C1410.3,573.0 1414.8,575.1 1419.3,577.3C1423.8,579.5 1428.3,581.7 1432.8,583.9C1437.3,586.1 1441.8,588.4 1446.3,590.7C1450.8,593.0 1455.3,595.3 1459.8,597.7C1464.3,600.0 1468.8,602.4 1473.3,604.8C1477.8,607.2 1482.3,609.7 1486.8,612.2C1491.3,614.7 1495.8,617.2 1500.3,619.7C1504.8,622.3 1509.3,624.9 1513.8,627.5C1518.3,630.1 1522.8,632.7 1527.3,635.4C1531.8,638.1 1536.3,640.8 1540.8,643.6C1545.3,646.3 1549.8,649.1 1554.3,651.9C1558.8,654.7 1563.4,657.6 1567.9,660.4C1572.4,663.3 1576.9,666.2 1581.4,669.2C1585.9,672.1 1590.4,675.1 1594.9,678.1C1599.4,681.2 1603.9,684.2 1608.4,687.3C1612.9,690.4 1617.4,693.5 1621.9,696.7C1626.4,699.8 1630.9,703.0 1635.4,706.3C1639.9,709.5 1644.4,712.8 1648.9,716.1C1653.4,719.4 1657.9,722.7 1662.4,726.1C1666.9,729.5 1671.4,732.9 1675.9,736.3C1680.4,739.8 1684.9,743.3 1689.4,746.8C1693.9,750.3 1698.4,753.9 1702.9,757.5C1707.4,761.1 1711.9,764.7 1716.4,768.4C1720.9,772.1 1725.4,775.8 1729.9,779.5C1734.4,783.3 1738.9,787.0 1743.4,790.9C1747.8,794.7 1752.3,798.6 1756.8,802.5C1761.3,806.4 1765.8,810.3 1770.3,814.3C1774.7,818.3 1779.2,822.3 1783.7,826.4C1788.2,830.4 1792.7,834.5 1797.2,838.6C1801.7,842.8 1806.1,846.9 1810.6,851.2C1815.1,855.4 1819.6,859.6 1824.1,863.9C1828.6,868.2 1833.0,872.5 1837.5,876.8C1842.0,881.2 1846.5,885.6 1851.0,890.0C1855.5,894.4 1859.9,898.8 1864.4,903.3C1868.9,907.8 1873.4,912.3 1877.9,916.9C1882.4,921.5 1886.9,926.0 1891.3,930.7C1895.8,935.3 1900.3,939.9 1904.8,944.6C1909.3,949.3 1913.8,954.0 1918.3,958.8C1922.7,963.5 1927.2,968.3 1931.7,973.1C1936.2,977.9 1940.7,982.8 1945.2,987.6C1949.7,992.5 1954.2,997.4 1958.7,1002.3C1963.2,1007.3 1967.6,1012.2 1972.1,1017.2C1976.6,1022.2 1981.1,1027.2 1985.6,1032.3C1990.1,1037.3 1994.6,1042.4 1999.1,1047.5C2003.6,1052.6 2010.3,1060.3 2012.5,1062.9" fill="none" stroke="#111" stroke-width="3.6" stroke-linecap="round" stroke-linejoin="round"/>
<path d="M652.9,655.3C655.2,654.9 661.9,653.5 666.3,652.7C670.8,651.9 675.2,651.1 679.7,650.3C684.1,649.5 688.6,648.8 693.0,648.0C697.5,647.3 702.0,646.6 706.4,646.0C710.9,645.3 715.3,644.7 719.8,644.0C724.2,643.4 728.7,642.9 733.2,642.3C737.6,641.7 742.1,641.2 746.5,640.7C751.0,640.2 755.4,639.7 759.9,639.3C764.3,638.8 768.8,638.4 773.3,638.0C777.7,637.6 782.2,637.2 786.6,636.9C791.1,636.5 795.5,636.2 800.0,635.9C804.5,635.6 808.9,635.4 813.4,635.1C817.8,634.9 822.3,634.7 826.7,634.5C831.2,634.3 835.7,634.1 840.3,634.0C844.8,633.8 849.3,633.7 853.8,633.6C858.3,633.5 862.9,633.5 867.4,633.4C871.9,633.4 876.4,633.4 881.0,633.4C885.5,633.4 890.0,633.4 894.5,633.5C899.1,633.5 903.6,633.6 908.1,633.7C912.6,633.8 917.2,634.0 921.7,634.1C926.2,634.3 930.7,634.4 935.3,634.6C939.8,634.8 944.3,635.1 948.8,635.3C953.3,635.5 957.9,635.8 962.4,636.1C966.9,636.4 971.4,636.7 976.0,637.0C980.5,637.4 985.0,637.7 989.5,638.1C994.1,638.5 998.6,638.9 1003.1,639.3C1007.6,639.8 1012.1,640.2 1016.6,640.7C1021.1,641.1 1025.5,641.6 1029.9,642.2C1034.4,642.7 1038.8,643.2 1043.3,643.8C1047.7,644.3 1052.1,644.9 1056.6,645.5C1061.0,646.1 1065.5,646.7 1069.9,647.4C1074.4,648.0 1078.8,648.7 1083.2,649.3C1087.7,650.0 1092.1,650.7 1096.6,651.5C1101.0,652.2 1105.5,652.9 1109.9,653.7C1114.4,654.5 1118.8,655.2 1123.2,656.0C1127.7,656.8 1132.1,657.7 1136.6,658.5C1141.0,659.4 1145.5,660.2 1149.9,661.1C1154.3,662.0 1158.8,662.9 1163.2,663.8C1167.7,664.7 1172.1,665.7 1176.6,666.6C1181.0,667.6 1187.7,669.1 1189.9,669.6" fill="none" stroke="#111" stroke-width="3.7" stroke-dasharray="4.6 11.4" stroke-linecap="round"/>
<path d="M1189.9,669.8C1192.1,670.3 1198.9,671.7 1203.4,672.6C1207.9,673.6 1212.4,674.6 1216.9,675.5C1221.4,676.5 1225.9,677.5 1230.4,678.5C1234.9,679.5 1239.4,680.5 1243.9,681.6C1248.4,682.6 1252.9,683.6 1257.4,684.7C1261.8,685.8 1266.3,686.8 1270.8,687.9C1275.3,689.0 1279.8,690.1 1284.3,691.2C1288.8,692.3 1293.3,693.4 1297.8,694.6C1302.3,695.7 1306.8,696.9 1311.3,698.0C1315.8,699.2 1320.3,700.4 1324.8,701.6C1329.3,702.8 1333.8,704.0 1338.3,705.2C1342.8,706.5 1347.3,707.7 1351.8,709.0C1356.3,710.3 1360.8,711.5 1365.3,712.8C1369.8,714.1 1374.3,715.5 1378.8,716.8C1383.3,718.1 1387.8,719.5 1392.3,720.9C1396.8,722.2 1401.3,723.6 1405.8,725.0C1410.3,726.4 1414.8,727.9 1419.3,729.3C1423.8,730.8 1428.3,732.2 1432.8,733.7C1437.3,735.2 1441.8,736.7 1446.3,738.2C1450.8,739.7 1455.3,741.3 1459.8,742.9C1464.3,744.4 1468.8,746.0 1473.3,747.6C1477.8,749.2 1482.3,750.9 1486.8,752.5C1491.3,754.2 1495.8,755.8 1500.3,757.5C1504.8,759.2 1509.3,761.0 1513.8,762.7C1518.3,764.4 1522.8,766.2 1527.3,768.0C1531.8,769.8 1536.3,771.6 1540.8,773.4C1545.3,775.3 1549.8,777.1 1554.3,779.0C1558.8,780.9 1563.4,782.8 1567.9,784.7C1572.4,786.7 1576.9,788.6 1581.4,790.6C1585.9,792.6 1590.4,794.6 1594.9,796.6C1599.4,798.7 1603.9,800.7 1608.4,802.8C1612.9,804.9 1617.4,807.0 1621.9,809.1C1626.4,811.3 1630.9,813.5 1635.4,815.6C1639.9,817.8 1644.4,820.1 1648.9,822.3C1653.4,824.6 1657.9,826.8 1662.4,829.1C1666.9,831.4 1671.4,833.8 1675.9,836.1C1680.4,838.5 1684.9,840.9 1689.4,843.3C1693.9,845.7 1698.4,848.2 1702.9,850.7C1707.4,853.2 1711.9,855.7 1716.4,858.2C1720.9,860.7 1725.4,863.3 1729.9,865.9C1734.4,868.5 1738.9,871.1 1743.4,873.8C1747.8,876.5 1752.3,879.2 1756.8,881.9C1761.3,884.6 1765.8,887.4 1770.3,890.2C1774.7,893.0 1779.2,895.8 1783.7,898.7C1788.2,901.5 1792.7,904.4 1797.2,907.3C1801.7,910.3 1806.1,913.2 1810.6,916.2C1815.1,919.2 1819.6,922.2 1824.1,925.3C1828.6,928.3 1833.0,931.4 1837.5,934.6C1842.0,937.7 1846.5,940.8 1851.0,944.0C1855.5,947.2 1859.9,950.5 1864.4,953.8C1868.9,957.0 1873.4,960.3 1877.9,963.7C1882.4,967.0 1886.9,970.4 1891.3,973.8C1895.8,977.2 1900.3,980.7 1904.8,984.2C1909.3,987.7 1913.8,991.2 1918.3,994.8C1922.7,998.3 1927.2,1001.9 1931.7,1005.6C1936.2,1009.2 1940.7,1012.9 1945.2,1016.6C1949.7,1020.3 1954.2,1024.1 1958.7,1027.9C1963.2,1031.7 1967.6,1035.5 1972.1,1039.4C1976.6,1043.3 1981.1,1047.2 1985.6,1051.2C1990.1,1055.1 1994.6,1059.1 1999.1,1063.2C2003.6,1067.2 2010.3,1073.4 2012.5,1075.4" fill="none" stroke="#111" stroke-width="3.6" stroke-linecap="round" stroke-linejoin="round"/>
<path d="M652.9,727.3C655.2,726.8 661.9,725.2 666.3,724.2C670.8,723.3 675.2,722.4 679.7,721.5C684.1,720.6 688.6,719.7 693.0,718.9C697.5,718.1 702.0,717.4 706.4,716.6C710.9,715.9 715.3,715.2 719.8,714.6C724.2,713.9 728.7,713.3 733.2,712.7C737.6,712.1 742.1,711.6 746.5,711.1C751.0,710.6 755.4,710.1 759.9,709.6C764.3,709.2 768.8,708.8 773.3,708.4C777.7,708.0 782.2,707.7 786.6,707.4C791.1,707.0 795.5,706.8 800.0,706.5C804.5,706.2 808.9,706.0 813.4,705.8C817.8,705.6 822.3,705.4 826.7,705.3C831.2,705.1 835.7,705.0 840.3,704.9C844.8,704.8 849.3,704.8 853.8,704.7C858.3,704.7 862.9,704.7 867.4,704.7C871.9,704.7 876.4,704.7 881.0,704.8C885.5,704.8 890.0,704.9 894.5,705.0C899.1,705.1 903.6,705.2 908.1,705.4C912.6,705.5 917.2,705.7 921.7,705.8C926.2,706.0 930.7,706.2 935.3,706.4C939.8,706.6 944.3,706.9 948.8,707.1C953.3,707.4 957.9,707.6 962.4,707.9C966.9,708.2 971.4,708.5 976.0,708.8C980.5,709.1 985.0,709.4 989.5,709.7C994.1,710.1 998.6,710.4 1003.1,710.8C1007.6,711.2 1012.1,711.5 1016.6,711.9C1021.1,712.3 1025.5,712.7 1029.9,713.1C1034.4,713.5 1038.8,713.9 1043.3,714.3C1047.7,714.7 1052.1,715.2 1056.6,715.6C1061.0,716.0 1065.5,716.5 1069.9,716.9C1074.4,717.4 1078.8,717.8 1083.2,718.3C1087.7,718.8 1092.1,719.2 1096.6,719.7C1101.0,720.2 1105.5,720.6 1109.9,721.1C1114.4,721.6 1118.8,722.1 1123.2,722.5C1127.7,723.0 1132.1,723.5 1136.6,724.0C1141.0,724.4 1145.5,724.9 1149.9,725.4C1154.3,725.9 1158.8,726.4 1163.2,726.8C1167.7,727.3 1172.1,727.8 1176.6,728.2C1181.0,728.7 1187.7,729.4 1189.9,729.6" fill="none" stroke="#111" stroke-width="3.7" stroke-dasharray="4.6 11.4" stroke-linecap="round"/>
<path d="M1189.9,729.6C1192.1,730.0 1198.9,731.3 1203.4,732.1C1207.9,733.0 1212.4,733.9 1216.9,734.9C1221.4,735.8 1225.9,736.8 1230.4,737.8C1234.9,738.7 1239.4,739.8 1243.9,740.8C1248.4,741.9 1252.9,742.9 1257.4,744.1C1261.8,745.2 1266.3,746.3 1270.8,747.4C1275.3,748.6 1279.8,749.8 1284.3,751.0C1288.8,752.2 1293.3,753.5 1297.8,754.7C1302.3,756.0 1306.8,757.3 1311.3,758.6C1315.8,760.0 1320.3,761.3 1324.8,762.7C1329.3,764.1 1333.8,765.5 1338.3,766.9C1342.8,768.3 1347.3,769.8 1351.8,771.3C1356.3,772.8 1360.8,774.3 1365.3,775.8C1369.8,777.3 1374.3,778.9 1378.8,780.5C1383.3,782.1 1387.8,783.7 1392.3,785.3C1396.8,787.0 1401.3,788.6 1405.8,790.3C1410.3,792.0 1414.8,793.7 1419.3,795.5C1423.8,797.2 1428.3,799.0 1432.8,800.8C1437.3,802.5 1441.8,804.4 1446.3,806.2C1450.8,808.0 1455.3,809.9 1459.8,811.8C1464.3,813.7 1468.8,815.6 1473.3,817.5C1477.8,819.5 1482.3,821.4 1486.8,823.4C1491.3,825.4 1495.8,827.4 1500.3,829.5C1504.8,831.5 1509.3,833.5 1513.8,835.6C1518.3,837.7 1522.8,839.8 1527.3,841.9C1531.8,844.1 1536.3,846.2 1540.8,848.4C1545.3,850.6 1549.8,852.8 1554.3,855.0C1558.8,857.2 1563.4,859.5 1567.9,861.7C1572.4,864.0 1576.9,866.3 1581.4,868.6C1585.9,870.9 1590.4,873.2 1594.9,875.6C1599.4,878.0 1603.9,880.3 1608.4,882.7C1612.9,885.1 1617.4,887.6 1621.9,890.0C1626.4,892.5 1630.9,894.9 1635.4,897.4C1639.9,899.9 1644.4,902.4 1648.9,904.9C1653.4,907.5 1657.9,910.0 1662.4,912.6C1666.9,915.2 1671.4,917.8 1675.9,920.4C1680.4,923.0 1684.9,925.7 1689.4,928.3C1693.9,931.0 1698.4,933.7 1702.9,936.5C1707.4,939.2 1711.9,942.0 1716.4,944.8C1720.9,947.6 1725.4,950.4 1729.9,953.3C1734.4,956.2 1738.9,959.1 1743.4,962.1C1747.8,965.0 1752.3,968.0 1756.8,971.1C1761.3,974.1 1765.8,977.2 1770.3,980.4C1774.7,983.5 1779.2,986.7 1783.7,989.9C1788.2,993.2 1792.7,996.5 1797.2,999.9C1801.7,1003.2 1806.1,1006.6 1810.6,1010.1C1815.1,1013.6 1819.6,1017.1 1824.1,1020.7C1828.6,1024.3 1833.0,1027.9 1837.5,1031.7C1842.0,1035.4 1846.5,1039.2 1851.0,1043.0C1855.5,1046.9 1859.9,1050.8 1864.4,1054.8C1868.9,1058.7 1873.4,1062.7 1877.9,1066.8C1882.4,1070.9 1886.9,1075.0 1891.3,1079.2C1895.8,1083.3 1900.3,1087.5 1904.8,1091.8C1909.3,1096.0 1913.8,1100.3 1918.3,1104.6C1922.7,1108.9 1927.2,1113.3 1931.7,1117.7C1936.2,1122.0 1940.7,1126.5 1945.2,1130.9C1949.7,1135.3 1954.2,1139.8 1958.7,1144.2C1963.2,1148.7 1967.6,1153.2 1972.1,1157.7C1976.6,1162.2 1981.1,1166.7 1985.6,1171.2C1990.1,1175.7 1994.6,1180.2 1999.1,1184.7C2003.6,1189.2 2010.3,1195.9 2012.5,1198.2" fill="none" stroke="#111" stroke-width="3.6" stroke-linecap="round" stroke-linejoin="round"/>
<path d="M652.9,853.8C655.2,853.5 661.9,852.7 666.3,852.2C670.8,851.8 675.2,851.3 679.7,850.9C684.1,850.5 688.6,850.1 693.0,849.7C697.5,849.3 702.0,849.0 706.4,848.7C710.9,848.3 715.3,848.0 719.8,847.8C724.2,847.5 728.7,847.2 733.2,847.0C737.6,846.8 742.1,846.6 746.5,846.4C751.0,846.2 755.4,846.1 759.9,845.9C764.3,845.8 768.8,845.7 773.3,845.6C777.7,845.5 782.2,845.4 786.6,845.4C791.1,845.3 795.5,845.3 800.0,845.3C804.5,845.3 808.9,845.3 813.4,845.3C817.8,845.3 822.3,845.4 826.7,845.4C831.2,845.5 835.7,845.6 840.3,845.7C844.8,845.8 849.3,845.9 853.8,846.0C858.3,846.1 862.9,846.3 867.4,846.5C871.9,846.6 876.4,846.8 881.0,847.0C885.5,847.2 890.0,847.4 894.5,847.6C899.1,847.9 903.6,848.1 908.1,848.3C912.6,848.6 917.2,848.9 921.7,849.1C926.2,849.4 930.7,849.7 935.3,850.0C939.8,850.3 944.3,850.6 948.8,851.0C953.3,851.3 957.9,851.6 962.4,852.0C966.9,852.3 971.4,852.7 976.0,853.1C980.5,853.4 985.0,853.8 989.5,854.2C994.1,854.6 998.6,855.0 1003.1,855.4C1007.6,855.8 1012.1,856.2 1016.6,856.6C1021.1,857.0 1025.5,857.5 1029.9,857.9C1034.4,858.3 1038.8,858.8 1043.3,859.2C1047.7,859.7 1052.1,860.1 1056.6,860.6C1061.0,861.1 1065.5,861.5 1069.9,862.0C1074.4,862.5 1078.8,862.9 1083.2,863.4C1087.7,863.9 1092.1,864.4 1096.6,864.9C1101.0,865.3 1105.5,865.8 1109.9,866.3C1114.4,866.8 1118.8,867.3 1123.2,867.8C1127.7,868.3 1132.1,868.8 1136.6,869.3C1141.0,869.8 1145.5,870.3 1149.9,870.8C1154.3,871.3 1158.8,871.8 1163.2,872.3C1167.7,872.8 1172.1,873.3 1176.6,873.8C1181.0,874.3 1187.7,875.0 1189.9,875.2" fill="none" stroke="#111" stroke-width="3.7" stroke-dasharray="4.6 11.4" stroke-linecap="round"/>
<path d="M1189.9,876.3C1192.1,876.8 1198.9,878.5 1203.4,879.7C1207.9,880.8 1212.4,882.0 1216.9,883.2C1221.4,884.3 1225.9,885.5 1230.4,886.7C1234.9,887.9 1239.4,889.1 1243.9,890.3C1248.4,891.5 1252.9,892.8 1257.4,894.0C1261.8,895.3 1266.3,896.5 1270.8,897.8C1275.3,899.1 1279.8,900.4 1284.3,901.7C1288.8,903.0 1293.3,904.3 1297.8,905.6C1302.3,906.9 1306.8,908.3 1311.3,909.6C1315.8,911.0 1320.3,912.4 1324.8,913.7C1329.3,915.1 1333.8,916.5 1338.3,917.9C1342.8,919.4 1347.3,920.8 1351.8,922.2C1356.3,923.7 1360.8,925.1 1365.3,926.6C1369.8,928.1 1374.3,929.6 1378.8,931.1C1383.3,932.6 1387.8,934.1 1392.3,935.6C1396.8,937.2 1401.3,938.7 1405.8,940.3C1410.3,941.9 1414.8,943.5 1419.3,945.1C1423.8,946.7 1428.3,948.3 1432.8,949.9C1437.3,951.6 1441.8,953.2 1446.3,954.9C1450.8,956.6 1455.3,958.3 1459.8,960.0C1464.3,961.7 1468.8,963.4 1473.3,965.2C1477.8,966.9 1482.3,968.7 1486.8,970.5C1491.3,972.2 1495.8,974.0 1500.3,975.9C1504.8,977.7 1509.3,979.5 1513.8,981.4C1518.3,983.2 1522.8,985.1 1527.3,987.0C1531.8,988.9 1536.3,990.8 1540.8,992.8C1545.3,994.7 1549.8,996.7 1554.3,998.6C1558.8,1000.6 1563.4,1002.6 1567.9,1004.6C1572.4,1006.6 1576.9,1008.7 1581.4,1010.7C1585.9,1012.8 1590.4,1014.9 1594.9,1017.0C1599.4,1019.1 1603.9,1021.2 1608.4,1023.3C1612.9,1025.5 1617.4,1027.6 1621.9,1029.8C1626.4,1032.0 1630.9,1034.2 1635.4,1036.4C1639.9,1038.6 1644.4,1040.9 1648.9,1043.2C1653.4,1045.4 1657.9,1047.7 1662.4,1050.1C1666.9,1052.4 1671.4,1054.7 1675.9,1057.1C1680.4,1059.4 1684.9,1061.8 1689.4,1064.2C1693.9,1066.6 1698.4,1069.1 1702.9,1071.5C1707.4,1074.0 1711.9,1076.5 1716.4,1079.0C1720.9,1081.5 1725.4,1084.0 1729.9,1086.6C1734.4,1089.1 1738.9,1091.7 1743.4,1094.3C1747.8,1096.9 1752.3,1099.5 1756.8,1102.2C1761.3,1104.8 1765.8,1107.5 1770.3,1110.2C1774.7,1112.9 1779.2,1115.6 1783.7,1118.4C1788.2,1121.1 1792.7,1123.9 1797.2,1126.7C1801.7,1129.5 1806.1,1132.3 1810.6,1135.2C1815.1,1138.0 1819.6,1140.9 1824.1,1143.8C1828.6,1146.7 1833.0,1149.7 1837.5,1152.6C1842.0,1155.6 1846.5,1158.6 1851.0,1161.6C1855.5,1164.6 1859.9,1167.7 1864.4,1170.7C1868.9,1173.8 1873.4,1176.9 1877.9,1180.0C1882.4,1183.1 1886.9,1186.2 1891.3,1189.4C1895.8,1192.5 1900.3,1195.7 1904.8,1198.9C1909.3,1202.1 1913.8,1205.4 1918.3,1208.6C1922.7,1211.9 1927.2,1215.1 1931.7,1218.4C1936.2,1221.7 1940.7,1225.0 1945.2,1228.3C1949.7,1231.7 1954.2,1235.0 1958.7,1238.4C1963.2,1241.8 1967.6,1245.1 1972.1,1248.5C1976.6,1251.9 1981.1,1255.4 1985.6,1258.8C1990.1,1262.2 1994.6,1265.7 1999.1,1269.2C2003.6,1272.6 2010.3,1277.9 2012.5,1279.6" fill="none" stroke="#111" stroke-width="3.6" stroke-linecap="round" stroke-linejoin="round"/>
<path d="M652.9,896.8C655.2,896.3 661.9,894.8 666.3,893.8C670.8,892.8 675.2,891.9 679.7,891.0C684.1,890.1 688.6,889.2 693.0,888.4C697.5,887.6 702.0,886.8 706.4,886.0C710.9,885.2 715.3,884.5 719.8,883.8C724.2,883.1 728.7,882.4 733.2,881.8C737.6,881.1 742.1,880.5 746.5,879.9C751.0,879.3 755.4,878.8 759.9,878.2C764.3,877.7 768.8,877.2 773.3,876.8C777.7,876.3 782.2,875.9 786.6,875.4C791.1,875.0 795.5,874.7 800.0,874.3C804.5,874.0 808.9,873.6 813.4,873.4C817.8,873.1 822.3,872.8 826.7,872.6C831.2,872.3 835.7,872.1 840.3,871.9C844.8,871.8 849.3,871.6 853.8,871.5C858.3,871.3 862.9,871.2 867.4,871.2C871.9,871.1 876.4,871.0 881.0,871.0C885.5,871.0 890.0,871.0 894.5,871.0C899.1,871.1 903.6,871.1 908.1,871.2C912.6,871.3 917.2,871.4 921.7,871.5C926.2,871.7 930.7,871.8 935.3,872.0C939.8,872.2 944.3,872.4 948.8,872.6C953.3,872.8 957.9,873.1 962.4,873.3C966.9,873.6 971.4,873.9 976.0,874.2C980.5,874.6 985.0,874.9 989.5,875.3C994.1,875.6 998.6,876.0 1003.1,876.4C1007.6,876.8 1012.1,877.3 1016.6,877.7C1021.1,878.2 1025.5,878.7 1029.9,879.2C1034.4,879.7 1038.8,880.2 1043.3,880.7C1047.7,881.2 1052.1,881.8 1056.6,882.4C1061.0,883.0 1065.5,883.6 1069.9,884.2C1074.4,884.8 1078.8,885.4 1083.2,886.1C1087.7,886.8 1092.1,887.4 1096.6,888.1C1101.0,888.8 1105.5,889.5 1109.9,890.3C1114.4,891.0 1118.8,891.8 1123.2,892.5C1127.7,893.3 1132.1,894.1 1136.6,894.9C1141.0,895.7 1145.5,896.5 1149.9,897.4C1154.3,898.2 1158.8,899.1 1163.2,900.0C1167.7,900.8 1172.1,901.7 1176.6,902.6C1181.0,903.5 1187.7,904.9 1189.9,905.4" fill="none" stroke="#111" stroke-width="3.7" stroke-dasharray="4.6 11.4" stroke-linecap="round"/>
<path d="M1189.9,906.0C1192.1,906.4 1198.9,907.5 1203.4,908.3C1207.9,909.0 1212.4,909.8 1216.9,910.7C1221.4,911.5 1225.9,912.4 1230.4,913.2C1234.9,914.1 1239.4,915.0 1243.9,915.9C1248.4,916.9 1252.9,917.8 1257.4,918.8C1261.8,919.8 1266.3,920.8 1270.8,921.8C1275.3,922.8 1279.8,923.9 1284.3,924.9C1288.8,926.0 1293.3,927.1 1297.8,928.2C1302.3,929.3 1306.8,930.5 1311.3,931.6C1315.8,932.8 1320.3,934.0 1324.8,935.2C1329.3,936.4 1333.8,937.7 1338.3,939.0C1342.8,940.2 1347.3,941.5 1351.8,942.8C1356.3,944.1 1360.8,945.5 1365.3,946.8C1369.8,948.2 1374.3,949.6 1378.8,951.0C1383.3,952.4 1387.8,953.9 1392.3,955.3C1396.8,956.8 1401.3,958.3 1405.8,959.8C1410.3,961.3 1414.8,962.8 1419.3,964.4C1423.8,965.9 1428.3,967.5 1432.8,969.1C1437.3,970.7 1441.8,972.4 1446.3,974.0C1450.8,975.7 1455.3,977.4 1459.8,979.1C1464.3,980.8 1468.8,982.5 1473.3,984.3C1477.8,986.0 1482.3,987.8 1486.8,989.6C1491.3,991.4 1495.8,993.2 1500.3,995.1C1504.8,997.0 1509.3,998.8 1513.8,1000.7C1518.3,1002.6 1522.8,1004.6 1527.3,1006.5C1531.8,1008.5 1536.3,1010.5 1540.8,1012.5C1545.3,1014.5 1549.8,1016.5 1554.3,1018.5C1558.8,1020.6 1563.4,1022.7 1567.9,1024.8C1572.4,1026.9 1576.9,1029.0 1581.4,1031.1C1585.9,1033.3 1590.4,1035.5 1594.9,1037.7C1599.4,1039.9 1603.9,1042.1 1608.4,1044.3C1612.9,1046.6 1617.4,1048.8 1621.9,1051.1C1626.4,1053.4 1630.9,1055.8 1635.4,1058.1C1639.9,1060.5 1644.4,1062.8 1648.9,1065.2C1653.4,1067.6 1657.9,1070.0 1662.4,1072.5C1666.9,1074.9 1671.4,1077.4 1675.9,1079.9C1680.4,1082.4 1684.9,1084.9 1689.4,1087.5C1693.9,1090.0 1698.4,1092.6 1702.9,1095.2C1707.4,1097.8 1711.9,1100.4 1716.4,1103.0C1720.9,1105.7 1725.4,1108.4 1729.9,1111.1C1734.4,1113.7 1738.9,1116.5 1743.4,1119.2C1747.8,1122.0 1752.3,1124.7 1756.8,1127.5C1761.3,1130.3 1765.8,1133.1 1770.3,1136.0C1774.7,1138.8 1779.2,1141.7 1783.7,1144.6C1788.2,1147.5 1792.7,1150.4 1797.2,1153.3C1801.7,1156.3 1806.1,1159.3 1810.6,1162.2C1815.1,1165.2 1819.6,1168.3 1824.1,1171.3C1828.6,1174.3 1833.0,1177.4 1837.5,1180.5C1842.0,1183.6 1846.5,1186.7 1851.0,1189.9C1855.5,1193.0 1859.9,1196.2 1864.4,1199.4C1868.9,1202.6 1873.4,1205.8 1877.9,1209.0C1882.4,1212.3 1886.9,1215.5 1891.3,1218.8C1895.8,1222.1 1900.3,1225.4 1904.8,1228.8C1909.3,1232.1 1913.8,1235.5 1918.3,1238.9C1922.7,1242.3 1927.2,1245.7 1931.7,1249.2C1936.2,1252.6 1940.7,1256.1 1945.2,1259.6C1949.7,1263.1 1954.2,1266.6 1958.7,1270.1C1963.2,1273.7 1967.6,1277.2 1972.1,1280.8C1976.6,1284.4 1981.1,1288.0 1985.6,1291.7C1990.1,1295.3 1994.6,1299.0 1999.1,1302.7C2003.6,1306.4 2010.3,1312.0 2012.5,1313.9" fill="none" stroke="#111" stroke-width="3.6" stroke-linecap="round" stroke-linejoin="round"/>
<path d="M652.9,936.6C655.2,936.2 661.9,935.2 666.3,934.5C670.8,933.8 675.2,933.2 679.7,932.5C684.1,931.9 688.6,931.3 693.0,930.7C697.5,930.0 702.0,929.5 706.4,928.9C710.9,928.3 715.3,927.8 719.8,927.2C724.2,926.7 728.7,926.2 733.2,925.7C737.6,925.2 742.1,924.7 746.5,924.2C751.0,923.7 755.4,923.3 759.9,922.9C764.3,922.4 768.8,922.0 773.3,921.6C777.7,921.2 782.2,920.8 786.6,920.5C791.1,920.1 795.5,919.8 800.0,919.4C804.5,919.1 808.9,918.8 813.4,918.5C817.8,918.2 822.3,918.0 826.7,917.7C831.2,917.5 835.7,917.2 840.3,917.0C844.8,916.8 849.3,916.6 853.8,916.4C858.3,916.2 862.9,916.0 867.4,915.9C871.9,915.8 876.4,915.6 881.0,915.5C885.5,915.4 890.0,915.3 894.5,915.2C899.1,915.2 903.6,915.1 908.1,915.1C912.6,915.0 917.2,915.0 921.7,915.0C926.2,915.0 930.7,915.0 935.3,915.1C939.8,915.1 944.3,915.1 948.8,915.2C953.3,915.3 957.9,915.4 962.4,915.5C966.9,915.6 971.4,915.7 976.0,915.9C980.5,916.0 985.0,916.2 989.5,916.4C994.1,916.5 998.6,916.7 1003.1,917.0C1007.6,917.2 1012.1,917.4 1016.6,917.7C1021.1,917.9 1025.5,918.2 1029.9,918.5C1034.4,918.8 1038.8,919.1 1043.3,919.4C1047.7,919.8 1052.1,920.1 1056.6,920.5C1061.0,920.9 1065.5,921.2 1069.9,921.7C1074.4,922.1 1078.8,922.5 1083.2,922.9C1087.7,923.4 1092.1,923.8 1096.6,924.3C1101.0,924.8 1105.5,925.3 1109.9,925.8C1114.4,926.3 1118.8,926.9 1123.2,927.4C1127.7,928.0 1132.1,928.6 1136.6,929.2C1141.0,929.8 1145.5,930.4 1149.9,931.0C1154.3,931.6 1158.8,932.3 1163.2,933.0C1167.7,933.6 1172.1,934.3 1176.6,935.0C1181.0,935.8 1187.7,936.9 1189.9,937.2" fill="none" stroke="#111" stroke-width="3.7" stroke-dasharray="4.6 11.4" stroke-linecap="round"/>
<path d="M1189.9,937.4C1192.1,937.7 1198.9,938.8 1203.4,939.5C1207.9,940.3 1212.4,941.0 1216.9,941.8C1221.4,942.6 1225.9,943.4 1230.4,944.2C1234.9,945.0 1239.4,945.9 1243.9,946.7C1248.4,947.6 1252.9,948.5 1257.4,949.4C1261.8,950.3 1266.3,951.2 1270.8,952.2C1275.3,953.1 1279.8,954.1 1284.3,955.1C1288.8,956.1 1293.3,957.1 1297.8,958.2C1302.3,959.2 1306.8,960.3 1311.3,961.4C1315.8,962.5 1320.3,963.6 1324.8,964.7C1329.3,965.8 1333.8,967.0 1338.3,968.2C1342.8,969.4 1347.3,970.6 1351.8,971.8C1356.3,973.1 1360.8,974.3 1365.3,975.6C1369.8,976.9 1374.3,978.2 1378.8,979.6C1383.3,980.9 1387.8,982.3 1392.3,983.6C1396.8,985.0 1401.3,986.4 1405.8,987.9C1410.3,989.3 1414.8,990.8 1419.3,992.3C1423.8,993.8 1428.3,995.3 1432.8,996.8C1437.3,998.4 1441.8,1000.0 1446.3,1001.6C1450.8,1003.2 1455.3,1004.8 1459.8,1006.4C1464.3,1008.1 1468.8,1009.8 1473.3,1011.5C1477.8,1013.2 1482.3,1014.9 1486.8,1016.7C1491.3,1018.5 1495.8,1020.3 1500.3,1022.1C1504.8,1023.9 1509.3,1025.8 1513.8,1027.6C1518.3,1029.5 1522.8,1031.4 1527.3,1033.4C1531.8,1035.3 1536.3,1037.3 1540.8,1039.3C1545.3,1041.3 1549.8,1043.3 1554.3,1045.4C1558.8,1047.4 1563.4,1049.5 1567.9,1051.6C1572.4,1053.8 1576.9,1055.9 1581.4,1058.1C1585.9,1060.3 1590.4,1062.5 1594.9,1064.7C1599.4,1067.0 1603.9,1069.2 1608.4,1071.5C1612.9,1073.8 1617.4,1076.2 1621.9,1078.6C1626.4,1080.9 1630.9,1083.3 1635.4,1085.8C1639.9,1088.2 1644.4,1090.6 1648.9,1093.1C1653.4,1095.6 1657.9,1098.2 1662.4,1100.7C1666.9,1103.3 1671.4,1105.9 1675.9,1108.5C1680.4,1111.2 1684.9,1113.8 1689.4,1116.5C1693.9,1119.2 1698.4,1121.9 1702.9,1124.7C1707.4,1127.5 1711.9,1130.3 1716.4,1133.1C1720.9,1135.9 1725.4,1138.8 1729.9,1141.7C1734.4,1144.6 1738.9,1147.5 1743.4,1150.5C1747.8,1153.5 1752.3,1156.5 1756.8,1159.5C1761.3,1162.6 1765.8,1165.7 1770.3,1168.8C1774.7,1171.9 1779.2,1175.0 1783.7,1178.2C1788.2,1181.4 1792.7,1184.6 1797.2,1187.9C1801.7,1191.1 1806.1,1194.4 1810.6,1197.8C1815.1,1201.1 1819.6,1204.4 1824.1,1207.8C1828.6,1211.1 1833.0,1214.5 1837.5,1217.8C1842.0,1221.2 1846.5,1224.5 1851.0,1227.9C1855.5,1231.2 1859.9,1234.5 1864.4,1237.7C1868.9,1241.0 1873.4,1244.2 1877.9,1247.4C1882.4,1250.6 1886.9,1253.7 1891.3,1256.9C1895.8,1260.0 1900.3,1263.1 1904.8,1266.2C1909.3,1269.3 1913.8,1272.5 1918.3,1275.6C1922.7,1278.7 1927.2,1281.8 1931.7,1285.0C1936.2,1288.2 1940.7,1291.3 1945.2,1294.5C1949.7,1297.7 1954.2,1301.0 1958.7,1304.2C1963.2,1307.5 1967.6,1310.8 1972.1,1314.1C1976.6,1317.4 1981.1,1320.7 1985.6,1324.0C1990.1,1327.4 1994.6,1330.8 1999.1,1334.2C2003.6,1337.6 2010.3,1342.7 2012.5,1344.4" fill="none" stroke="#111" stroke-width="3.6" stroke-linecap="round" stroke-linejoin="round"/>
<path d="M652.9,1052.4C655.2,1052.5 661.9,1052.7 666.3,1052.9C670.8,1053.1 675.2,1053.3 679.7,1053.5C684.1,1053.7 688.6,1053.9 693.0,1054.1C697.5,1054.3 702.0,1054.6 706.4,1054.8C710.9,1055.0 715.3,1055.2 719.8,1055.5C724.2,1055.7 728.7,1056.0 733.2,1056.2C737.6,1056.5 742.1,1056.7 746.5,1057.0C751.0,1057.3 755.4,1057.5 759.9,1057.8C764.3,1058.1 768.8,1058.4 773.3,1058.6C777.7,1058.9 782.2,1059.2 786.6,1059.5C791.1,1059.8 795.5,1060.1 800.0,1060.4C804.5,1060.7 808.9,1061.0 813.4,1061.3C817.8,1061.7 822.3,1062.0 826.7,1062.3C831.2,1062.6 835.7,1063.0 840.3,1063.3C844.8,1063.6 849.3,1064.0 853.8,1064.3C858.3,1064.7 862.9,1065.0 867.4,1065.4C871.9,1065.7 876.4,1066.1 881.0,1066.4C885.5,1066.8 890.0,1067.2 894.5,1067.5C899.1,1067.9 903.6,1068.3 908.1,1068.7C912.6,1069.0 917.2,1069.4 921.7,1069.8C926.2,1070.2 930.7,1070.6 935.3,1071.0C939.8,1071.4 944.3,1071.8 948.8,1072.2C953.3,1072.6 957.9,1073.0 962.4,1073.4C966.9,1073.8 971.4,1074.2 976.0,1074.6C980.5,1075.0 985.0,1075.4 989.5,1075.8C994.1,1076.3 998.6,1076.7 1003.1,1077.1C1007.6,1077.5 1012.1,1078.0 1016.6,1078.4C1021.1,1078.8 1025.5,1079.2 1029.9,1079.7C1034.4,1080.1 1038.8,1080.5 1043.3,1081.0C1047.7,1081.4 1052.1,1081.9 1056.6,1082.3C1061.0,1082.8 1065.5,1083.2 1069.9,1083.6C1074.4,1084.1 1078.8,1084.5 1083.2,1085.0C1087.7,1085.4 1092.1,1085.9 1096.6,1086.3C1101.0,1086.8 1105.5,1087.3 1109.9,1087.7C1114.4,1088.2 1118.8,1088.6 1123.2,1089.1C1127.7,1089.6 1132.1,1090.0 1136.6,1090.5C1141.0,1090.9 1145.5,1091.4 1149.9,1091.9C1154.3,1092.3 1158.8,1092.8 1163.2,1093.3C1167.7,1093.7 1172.1,1094.2 1176.6,1094.7C1181.0,1095.1 1187.7,1095.8 1189.9,1096.1" fill="none" stroke="#111" stroke-width="3.7" stroke-dasharray="4.6 11.4" stroke-linecap="round"/>
<path d="M1189.9,1095.8C1192.1,1096.2 1198.9,1097.4 1203.4,1098.3C1207.9,1099.1 1212.4,1099.9 1216.9,1100.7C1221.4,1101.5 1225.9,1102.4 1230.4,1103.2C1234.9,1104.1 1239.4,1104.9 1243.9,1105.8C1248.4,1106.6 1252.9,1107.5 1257.4,1108.4C1261.8,1109.2 1266.3,1110.1 1270.8,1111.0C1275.3,1111.9 1279.8,1112.8 1284.3,1113.7C1288.8,1114.6 1293.3,1115.5 1297.8,1116.4C1302.3,1117.4 1306.8,1118.3 1311.3,1119.3C1315.8,1120.2 1320.3,1121.2 1324.8,1122.1C1329.3,1123.1 1333.8,1124.1 1338.3,1125.1C1342.8,1126.1 1347.3,1127.1 1351.8,1128.1C1356.3,1129.1 1360.8,1130.1 1365.3,1131.2C1369.8,1132.2 1374.3,1133.3 1378.8,1134.3C1383.3,1135.4 1387.8,1136.5 1392.3,1137.6C1396.8,1138.7 1401.3,1139.8 1405.8,1140.9C1410.3,1142.0 1414.8,1143.2 1419.3,1144.3C1423.8,1145.5 1428.3,1146.6 1432.8,1147.8C1437.3,1149.0 1441.8,1150.2 1446.3,1151.4C1450.8,1152.6 1455.3,1153.8 1459.8,1155.1C1464.3,1156.3 1468.8,1157.6 1473.3,1158.9C1477.8,1160.2 1482.3,1161.4 1486.8,1162.8C1491.3,1164.1 1495.8,1165.4 1500.3,1166.8C1504.8,1168.1 1509.3,1169.5 1513.8,1170.9C1518.3,1172.2 1522.8,1173.6 1527.3,1175.1C1531.8,1176.5 1536.3,1177.9 1540.8,1179.4C1545.3,1180.9 1549.8,1182.3 1554.3,1183.8C1558.8,1185.3 1563.4,1186.9 1567.9,1188.4C1572.4,1190.0 1576.9,1191.5 1581.4,1193.1C1585.9,1194.7 1590.4,1196.3 1594.9,1197.9C1599.4,1199.6 1603.9,1201.2 1608.4,1202.9C1612.9,1204.6 1617.4,1206.2 1621.9,1208.0C1626.4,1209.7 1630.9,1211.4 1635.4,1213.2C1639.9,1215.0 1644.4,1216.7 1648.9,1218.6C1653.4,1220.4 1657.9,1222.2 1662.4,1224.1C1666.9,1225.9 1671.4,1227.8 1675.9,1229.7C1680.4,1231.6 1684.9,1233.6 1689.4,1235.5C1693.9,1237.5 1698.4,1239.5 1702.9,1241.5C1707.4,1243.5 1711.9,1245.6 1716.4,1247.6C1720.9,1249.7 1725.4,1251.8 1729.9,1253.9C1734.4,1256.0 1738.9,1258.2 1743.4,1260.3C1747.8,1262.5 1752.3,1264.7 1756.8,1267.0C1761.3,1269.2 1765.8,1271.4 1770.3,1273.7C1774.7,1276.0 1779.2,1278.3 1783.7,1280.7C1788.2,1283.0 1792.7,1285.4 1797.2,1287.8C1801.7,1290.2 1806.1,1292.7 1810.6,1295.1C1815.1,1297.6 1819.6,1300.1 1824.1,1302.6C1828.6,1305.1 1833.0,1307.7 1837.5,1310.2C1842.0,1312.8 1846.5,1315.4 1851.0,1318.0C1855.5,1320.6 1859.9,1323.2 1864.4,1325.8C1868.9,1328.5 1873.4,1331.1 1877.9,1333.8C1882.4,1336.5 1886.9,1339.1 1891.3,1341.8C1895.8,1344.5 1900.3,1347.2 1904.8,1349.9C1909.3,1352.6 1913.8,1355.3 1918.3,1358.0C1922.7,1360.8 1927.2,1363.5 1931.7,1366.2C1936.2,1368.9 1940.7,1371.7 1945.2,1374.4C1949.7,1377.1 1954.2,1379.8 1958.7,1382.5C1963.2,1385.2 1967.6,1387.9 1972.1,1390.6C1976.6,1393.3 1981.1,1396.0 1985.6,1398.7C1990.1,1401.4 1994.6,1404.1 1999.1,1406.7C2003.6,1409.4 2010.3,1413.3 2012.5,1414.6" fill="none" stroke="#111" stroke-width="3.6" stroke-linecap="round" stroke-linejoin="round"/>
<path d="M652.9,1083.2C655.2,1083.1 661.9,1082.9 666.3,1082.8C670.8,1082.7 675.2,1082.6 679.7,1082.5C684.1,1082.4 688.6,1082.2 693.0,1082.1C697.5,1082.0 702.0,1081.9 706.4,1081.8C710.9,1081.7 715.3,1081.6 719.8,1081.5C724.2,1081.4 728.7,1081.3 733.2,1081.2C737.6,1081.1 742.1,1081.1 746.5,1081.0C751.0,1080.9 755.4,1080.8 759.9,1080.7C764.3,1080.7 768.8,1080.6 773.3,1080.6C777.7,1080.5 782.2,1080.5 786.6,1080.4C791.1,1080.4 795.5,1080.3 800.0,1080.3C804.5,1080.3 808.9,1080.2 813.4,1080.2C817.8,1080.2 822.3,1080.2 826.7,1080.2C831.2,1080.2 835.7,1080.2 840.3,1080.2C844.8,1080.3 849.3,1080.3 853.8,1080.3C858.3,1080.4 862.9,1080.4 867.4,1080.5C871.9,1080.5 876.4,1080.6 881.0,1080.7C885.5,1080.7 890.0,1080.8 894.5,1080.9C899.1,1081.0 903.6,1081.1 908.1,1081.2C912.6,1081.4 917.2,1081.5 921.7,1081.6C926.2,1081.8 930.7,1081.9 935.3,1082.1C939.8,1082.3 944.3,1082.5 948.8,1082.7C953.3,1082.9 957.9,1083.1 962.4,1083.3C966.9,1083.5 971.4,1083.8 976.0,1084.0C980.5,1084.3 985.0,1084.5 989.5,1084.8C994.1,1085.1 998.6,1085.4 1003.1,1085.7C1007.6,1086.0 1012.1,1086.3 1016.6,1086.7C1021.1,1087.0 1025.5,1087.4 1029.9,1087.8C1034.4,1088.1 1038.8,1088.5 1043.3,1088.9C1047.7,1089.4 1052.1,1089.8 1056.6,1090.2C1061.0,1090.7 1065.5,1091.1 1069.9,1091.6C1074.4,1092.1 1078.8,1092.6 1083.2,1093.1C1087.7,1093.6 1092.1,1094.2 1096.6,1094.7C1101.0,1095.3 1105.5,1095.9 1109.9,1096.5C1114.4,1097.1 1118.8,1097.7 1123.2,1098.3C1127.7,1099.0 1132.1,1099.6 1136.6,1100.3C1141.0,1101.0 1145.5,1101.7 1149.9,1102.4C1154.3,1103.1 1158.8,1103.9 1163.2,1104.6C1167.7,1105.4 1172.1,1106.2 1176.6,1107.0C1181.0,1107.8 1187.7,1109.1 1189.9,1109.5" fill="none" stroke="#111" stroke-width="3.7" stroke-dasharray="4.6 11.4" stroke-linecap="round"/>
<path d="M1189.9,1110.0C1192.1,1110.3 1198.9,1111.1 1203.4,1111.7C1207.9,1112.3 1212.4,1112.9 1216.9,1113.6C1221.4,1114.2 1225.9,1114.9 1230.4,1115.6C1234.9,1116.3 1239.4,1117.0 1243.9,1117.7C1248.4,1118.5 1252.9,1119.2 1257.4,1120.0C1261.8,1120.8 1266.3,1121.6 1270.8,1122.5C1275.3,1123.3 1279.8,1124.1 1284.3,1125.0C1288.8,1125.9 1293.3,1126.8 1297.8,1127.7C1302.3,1128.6 1306.8,1129.5 1311.3,1130.5C1315.8,1131.5 1320.3,1132.5 1324.8,1133.5C1329.3,1134.5 1333.8,1135.5 1338.3,1136.5C1342.8,1137.6 1347.3,1138.7 1351.8,1139.8C1356.3,1140.9 1360.8,1142.0 1365.3,1143.1C1369.8,1144.2 1374.3,1145.4 1378.8,1146.6C1383.3,1147.8 1387.8,1149.0 1392.3,1150.2C1396.8,1151.4 1401.3,1152.6 1405.8,1153.9C1410.3,1155.2 1414.8,1156.5 1419.3,1157.8C1423.8,1159.1 1428.3,1160.4 1432.8,1161.7C1437.3,1163.1 1441.8,1164.5 1446.3,1165.8C1450.8,1167.2 1455.3,1168.6 1459.8,1170.1C1464.3,1171.5 1468.8,1173.0 1473.3,1174.4C1477.8,1175.9 1482.3,1177.4 1486.8,1178.9C1491.3,1180.4 1495.8,1181.9 1500.3,1183.5C1504.8,1185.0 1509.3,1186.6 1513.8,1188.2C1518.3,1189.8 1522.8,1191.4 1527.3,1193.0C1531.8,1194.7 1536.3,1196.3 1540.8,1198.0C1545.3,1199.7 1549.8,1201.4 1554.3,1203.1C1558.8,1204.8 1563.4,1206.5 1567.9,1208.3C1572.4,1210.0 1576.9,1211.8 1581.4,1213.6C1585.9,1215.4 1590.4,1217.2 1594.9,1219.0C1599.4,1220.8 1603.9,1222.7 1608.4,1224.5C1612.9,1226.4 1617.4,1228.3 1621.9,1230.2C1626.4,1232.1 1630.9,1234.0 1635.4,1236.0C1639.9,1237.9 1644.4,1239.9 1648.9,1241.8C1653.4,1243.8 1657.9,1245.8 1662.4,1247.8C1666.9,1249.9 1671.4,1251.9 1675.9,1253.9C1680.4,1256.0 1684.9,1258.1 1689.4,1260.2C1693.9,1262.2 1698.4,1264.4 1702.9,1266.5C1707.4,1268.6 1711.9,1270.7 1716.4,1272.9C1720.9,1275.1 1725.4,1277.3 1729.9,1279.4C1734.4,1281.6 1738.9,1283.9 1743.4,1286.1C1747.8,1288.3 1752.3,1290.6 1756.8,1292.8C1761.3,1295.1 1765.8,1297.4 1770.3,1299.7C1774.7,1302.0 1779.2,1304.3 1783.7,1306.7C1788.2,1309.0 1792.7,1311.4 1797.2,1313.7C1801.7,1316.1 1806.1,1318.5 1810.6,1320.9C1815.1,1323.3 1819.6,1325.7 1824.1,1328.2C1828.6,1330.6 1833.0,1333.1 1837.5,1335.5C1842.0,1338.0 1846.5,1340.5 1851.0,1343.0C1855.5,1345.5 1859.9,1348.0 1864.4,1350.5C1868.9,1353.1 1873.4,1355.6 1877.9,1358.2C1882.4,1360.7 1886.9,1363.3 1891.3,1365.9C1895.8,1368.4 1900.3,1371.0 1904.8,1373.6C1909.3,1376.3 1913.8,1378.9 1918.3,1381.5C1922.7,1384.1 1927.2,1386.8 1931.7,1389.4C1936.2,1392.1 1940.7,1394.7 1945.2,1397.4C1949.7,1400.1 1954.2,1402.8 1958.7,1405.4C1963.2,1408.1 1967.6,1410.8 1972.1,1413.5C1976.6,1416.2 1981.1,1419.0 1985.6,1421.7C1990.1,1424.4 1994.6,1427.1 1999.1,1429.9C2003.6,1432.6 2010.3,1436.7 2012.5,1438.1" fill="none" stroke="#111" stroke-width="3.6" stroke-linecap="round" stroke-linejoin="round"/>
<path d="M652.9,1146.5C655.2,1146.1 661.9,1144.7 666.3,1143.9C670.8,1143.1 675.2,1142.3 679.7,1141.5C684.1,1140.7 688.6,1140.0 693.0,1139.3C697.5,1138.6 702.0,1138.0 706.4,1137.3C710.9,1136.7 715.3,1136.1 719.8,1135.5C724.2,1135.0 728.7,1134.4 733.2,1133.9C737.6,1133.4 742.1,1133.0 746.5,1132.5C751.0,1132.1 755.4,1131.6 759.9,1131.2C764.3,1130.8 768.8,1130.5 773.3,1130.1C777.7,1129.8 782.2,1129.5 786.6,1129.2C791.1,1128.9 795.5,1128.7 800.0,1128.4C804.5,1128.2 808.9,1128.0 813.4,1127.8C817.8,1127.6 822.3,1127.4 826.7,1127.3C831.2,1127.1 835.7,1127.0 840.3,1126.9C844.8,1126.8 849.3,1126.7 853.8,1126.6C858.3,1126.6 862.9,1126.5 867.4,1126.5C871.9,1126.5 876.4,1126.4 881.0,1126.5C885.5,1126.5 890.0,1126.5 894.5,1126.5C899.1,1126.6 903.6,1126.6 908.1,1126.7C912.6,1126.8 917.2,1126.9 921.7,1127.0C926.2,1127.1 930.7,1127.2 935.3,1127.3C939.8,1127.4 944.3,1127.6 948.8,1127.7C953.3,1127.9 957.9,1128.0 962.4,1128.2C966.9,1128.4 971.4,1128.6 976.0,1128.7C980.5,1128.9 985.0,1129.1 989.5,1129.4C994.1,1129.6 998.6,1129.8 1003.1,1130.0C1007.6,1130.2 1012.1,1130.5 1016.6,1130.7C1021.1,1130.9 1025.5,1131.2 1029.9,1131.4C1034.4,1131.7 1038.8,1131.9 1043.3,1132.2C1047.7,1132.5 1052.1,1132.7 1056.6,1133.0C1061.0,1133.2 1065.5,1133.5 1069.9,1133.8C1074.4,1134.0 1078.8,1134.3 1083.2,1134.6C1087.7,1134.8 1092.1,1135.1 1096.6,1135.4C1101.0,1135.7 1105.5,1135.9 1109.9,1136.2C1114.4,1136.5 1118.8,1136.7 1123.2,1137.0C1127.7,1137.2 1132.1,1137.5 1136.6,1137.7C1141.0,1138.0 1145.5,1138.3 1149.9,1138.5C1154.3,1138.7 1158.8,1139.0 1163.2,1139.2C1167.7,1139.4 1172.1,1139.7 1176.6,1139.9C1181.0,1140.1 1187.7,1140.4 1189.9,1140.5" fill="none" stroke="#111" stroke-width="3.7" stroke-dasharray="4.6 11.4" stroke-linecap="round"/>
<path d="M1189.9,1140.8C1192.1,1141.1 1198.9,1142.0 1203.4,1142.6C1207.9,1143.2 1212.4,1143.9 1216.9,1144.5C1221.4,1145.2 1225.9,1145.9 1230.4,1146.6C1234.9,1147.2 1239.4,1148.0 1243.9,1148.7C1248.4,1149.4 1252.9,1150.2 1257.4,1151.0C1261.8,1151.7 1266.3,1152.5 1270.8,1153.3C1275.3,1154.1 1279.8,1155.0 1284.3,1155.8C1288.8,1156.7 1293.3,1157.5 1297.8,1158.4C1302.3,1159.3 1306.8,1160.2 1311.3,1161.1C1315.8,1162.0 1320.3,1163.0 1324.8,1163.9C1329.3,1164.9 1333.8,1165.9 1338.3,1166.9C1342.8,1167.9 1347.3,1168.9 1351.8,1169.9C1356.3,1171.0 1360.8,1172.0 1365.3,1173.1C1369.8,1174.2 1374.3,1175.3 1378.8,1176.4C1383.3,1177.5 1387.8,1178.7 1392.3,1179.8C1396.8,1181.0 1401.3,1182.1 1405.8,1183.3C1410.3,1184.5 1414.8,1185.7 1419.3,1187.0C1423.8,1188.2 1428.3,1189.5 1432.8,1190.7C1437.3,1192.0 1441.8,1193.3 1446.3,1194.6C1450.8,1196.0 1455.3,1197.3 1459.8,1198.6C1464.3,1200.0 1468.8,1201.4 1473.3,1202.8C1477.8,1204.2 1482.3,1205.6 1486.8,1207.0C1491.3,1208.5 1495.8,1209.9 1500.3,1211.4C1504.8,1212.9 1509.3,1214.4 1513.8,1215.9C1518.3,1217.4 1522.8,1219.0 1527.3,1220.5C1531.8,1222.1 1536.3,1223.7 1540.8,1225.3C1545.3,1226.9 1549.8,1228.5 1554.3,1230.2C1558.8,1231.8 1563.4,1233.5 1567.9,1235.2C1572.4,1236.8 1576.9,1238.5 1581.4,1240.3C1585.9,1242.0 1590.4,1243.8 1594.9,1245.5C1599.4,1247.3 1603.9,1249.1 1608.4,1250.9C1612.9,1252.7 1617.4,1254.6 1621.9,1256.4C1626.4,1258.3 1630.9,1260.2 1635.4,1262.1C1639.9,1264.0 1644.4,1265.9 1648.9,1267.9C1653.4,1269.8 1657.9,1271.8 1662.4,1273.8C1666.9,1275.7 1671.4,1277.8 1675.9,1279.8C1680.4,1281.8 1684.9,1283.9 1689.4,1286.0C1693.9,1288.0 1698.4,1290.1 1702.9,1292.3C1707.4,1294.4 1711.9,1296.5 1716.4,1298.7C1720.9,1300.9 1725.4,1303.1 1729.9,1305.3C1734.4,1307.5 1738.9,1309.7 1743.4,1312.0C1747.8,1314.2 1752.3,1316.5 1756.8,1318.8C1761.3,1321.1 1765.8,1323.4 1770.3,1325.8C1774.7,1328.1 1779.2,1330.5 1783.7,1332.9C1788.2,1335.3 1792.7,1337.7 1797.2,1340.2C1801.7,1342.6 1806.1,1345.1 1810.6,1347.5C1815.1,1350.0 1819.6,1352.5 1824.1,1355.1C1828.6,1357.6 1833.0,1360.2 1837.5,1362.7C1842.0,1365.3 1846.5,1367.9 1851.0,1370.6C1855.5,1373.2 1859.9,1375.8 1864.4,1378.5C1868.9,1381.2 1873.4,1383.9 1877.9,1386.6C1882.4,1389.3 1886.9,1392.1 1891.3,1394.8C1895.8,1397.6 1900.3,1400.4 1904.8,1403.2C1909.3,1406.0 1913.8,1408.9 1918.3,1411.7C1922.7,1414.6 1927.2,1417.5 1931.7,1420.4C1936.2,1423.3 1940.7,1426.2 1945.2,1429.2C1949.7,1432.1 1954.2,1435.1 1958.7,1438.1C1963.2,1441.1 1967.6,1444.2 1972.1,1447.2C1976.6,1450.3 1981.1,1453.4 1985.6,1456.5C1990.1,1459.6 1994.6,1462.7 1999.1,1465.9C2003.6,1469.0 2010.3,1473.8 2012.5,1475.4" fill="none" stroke="#111" stroke-width="3.6" stroke-linecap="round" stroke-linejoin="round"/>
<path d="M652.9,1264.4C655.2,1264.4 661.9,1264.2 666.3,1264.2C670.8,1264.1 675.2,1264.0 679.7,1264.0C684.1,1263.9 688.6,1263.9 693.0,1263.8C697.5,1263.8 702.0,1263.7 706.4,1263.7C710.9,1263.7 715.3,1263.7 719.8,1263.7C724.2,1263.6 728.7,1263.6 733.2,1263.6C737.6,1263.6 742.1,1263.7 746.5,1263.7C751.0,1263.7 755.4,1263.7 759.9,1263.7C764.3,1263.8 768.8,1263.8 773.3,1263.8C777.7,1263.9 782.2,1263.9 786.6,1264.0C791.1,1264.1 795.5,1264.1 800.0,1264.2C804.5,1264.3 808.9,1264.3 813.4,1264.4C817.8,1264.5 822.3,1264.6 826.7,1264.7C831.2,1264.8 835.7,1264.9 840.3,1265.0C844.8,1265.1 849.3,1265.2 853.8,1265.3C858.3,1265.5 862.9,1265.6 867.4,1265.7C871.9,1265.8 876.4,1266.0 881.0,1266.1C885.5,1266.3 890.0,1266.4 894.5,1266.6C899.1,1266.7 903.6,1266.9 908.1,1267.0C912.6,1267.2 917.2,1267.4 921.7,1267.5C926.2,1267.7 930.7,1267.9 935.3,1268.1C939.8,1268.3 944.3,1268.5 948.8,1268.7C953.3,1268.8 957.9,1269.0 962.4,1269.3C966.9,1269.5 971.4,1269.7 976.0,1269.9C980.5,1270.1 985.0,1270.3 989.5,1270.5C994.1,1270.8 998.6,1271.0 1003.1,1271.2C1007.6,1271.4 1012.1,1271.7 1016.6,1271.9C1021.1,1272.2 1025.5,1272.4 1029.9,1272.7C1034.4,1272.9 1038.8,1273.2 1043.3,1273.4C1047.7,1273.7 1052.1,1273.9 1056.6,1274.2C1061.0,1274.5 1065.5,1274.7 1069.9,1275.0C1074.4,1275.3 1078.8,1275.5 1083.2,1275.8C1087.7,1276.1 1092.1,1276.4 1096.6,1276.7C1101.0,1276.9 1105.5,1277.2 1109.9,1277.5C1114.4,1277.8 1118.8,1278.1 1123.2,1278.4C1127.7,1278.7 1132.1,1279.0 1136.6,1279.3C1141.0,1279.6 1145.5,1279.9 1149.9,1280.2C1154.3,1280.5 1158.8,1280.8 1163.2,1281.1C1167.7,1281.5 1172.1,1281.8 1176.6,1282.1C1181.0,1282.4 1187.7,1282.9 1189.9,1283.1" fill="none" stroke="#111" stroke-width="3.7" stroke-dasharray="4.6 11.4" stroke-linecap="round"/>
<path d="M1189.9,1283.0C1192.1,1283.4 1198.9,1284.5 1203.4,1285.3C1207.9,1286.1 1212.4,1286.9 1216.9,1287.6C1221.4,1288.4 1225.9,1289.2 1230.4,1289.9C1234.9,1290.7 1239.4,1291.5 1243.9,1292.3C1248.4,1293.0 1252.9,1293.8 1257.4,1294.6C1261.8,1295.4 1266.3,1296.2 1270.8,1296.9C1275.3,1297.7 1279.8,1298.5 1284.3,1299.3C1288.8,1300.1 1293.3,1300.9 1297.8,1301.7C1302.3,1302.5 1306.8,1303.3 1311.3,1304.1C1315.8,1304.9 1320.3,1305.7 1324.8,1306.5C1329.3,1307.3 1333.8,1308.2 1338.3,1309.0C1342.8,1309.8 1347.3,1310.6 1351.8,1311.5C1356.3,1312.3 1360.8,1313.2 1365.3,1314.0C1369.8,1314.9 1374.3,1315.7 1378.8,1316.6C1383.3,1317.5 1387.8,1318.4 1392.3,1319.2C1396.8,1320.1 1401.3,1321.0 1405.8,1321.9C1410.3,1322.8 1414.8,1323.7 1419.3,1324.6C1423.8,1325.6 1428.3,1326.5 1432.8,1327.4C1437.3,1328.4 1441.8,1329.3 1446.3,1330.3C1450.8,1331.2 1455.3,1332.2 1459.8,1333.2C1464.3,1334.2 1468.8,1335.1 1473.3,1336.1C1477.8,1337.2 1482.3,1338.2 1486.8,1339.2C1491.3,1340.2 1495.8,1341.3 1500.3,1342.3C1504.8,1343.4 1509.3,1344.4 1513.8,1345.5C1518.3,1346.6 1522.8,1347.7 1527.3,1348.8C1531.8,1349.9 1536.3,1351.0 1540.8,1352.1C1545.3,1353.3 1549.8,1354.4 1554.3,1355.6C1558.8,1356.8 1563.4,1357.9 1567.9,1359.1C1572.4,1360.3 1576.9,1361.5 1581.4,1362.8C1585.9,1364.0 1590.4,1365.3 1594.9,1366.5C1599.4,1367.8 1603.9,1369.1 1608.4,1370.4C1612.9,1371.7 1617.4,1373.0 1621.9,1374.3C1626.4,1375.6 1630.9,1377.0 1635.4,1378.4C1639.9,1379.7 1644.4,1381.1 1648.9,1382.5C1653.4,1383.9 1657.9,1385.4 1662.4,1386.8C1666.9,1388.3 1671.4,1389.7 1675.9,1391.2C1680.4,1392.7 1684.9,1394.2 1689.4,1395.7C1693.9,1397.3 1698.4,1398.8 1702.9,1400.4C1707.4,1402.0 1711.9,1403.6 1716.4,1405.2C1720.9,1406.8 1725.4,1408.4 1729.9,1410.1C1734.4,1411.8 1738.9,1413.4 1743.4,1415.2C1747.8,1416.9 1752.3,1418.6 1756.8,1420.4C1761.3,1422.1 1765.8,1423.9 1770.3,1425.7C1774.7,1427.5 1779.2,1429.3 1783.7,1431.2C1788.2,1433.1 1792.7,1434.9 1797.2,1436.8C1801.7,1438.8 1806.1,1440.7 1810.6,1442.6C1815.1,1444.6 1819.6,1446.6 1824.1,1448.6C1828.6,1450.6 1833.0,1452.7 1837.5,1454.7C1842.0,1456.8 1846.5,1458.9 1851.0,1461.0C1855.5,1463.1 1859.9,1465.3 1864.4,1467.5C1868.9,1469.7 1873.4,1471.9 1877.9,1474.1C1882.4,1476.4 1886.9,1478.6 1891.3,1480.9C1895.8,1483.2 1900.3,1485.6 1904.8,1487.9C1909.3,1490.3 1913.8,1492.7 1918.3,1495.1C1922.7,1497.5 1927.2,1500.0 1931.7,1502.5C1936.2,1504.9 1940.7,1507.5 1945.2,1510.0C1949.7,1512.6 1954.2,1515.1 1958.7,1517.8C1963.2,1520.4 1967.6,1523.0 1972.1,1525.7C1976.6,1528.4 1981.1,1531.1 1985.6,1533.9C1990.1,1536.6 1994.6,1539.4 1999.1,1542.2C2003.6,1545.0 2010.3,1549.4 2012.5,1550.8" fill="none" stroke="#111" stroke-width="3.6" stroke-linecap="round" stroke-linejoin="round"/>
<path d="M652.9,1289.1C655.2,1289.1 661.9,1289.1 666.3,1289.2C670.8,1289.2 675.2,1289.3 679.7,1289.3C684.1,1289.4 688.6,1289.5 693.0,1289.5C697.5,1289.6 702.0,1289.7 706.4,1289.7C710.9,1289.8 715.3,1289.9 719.8,1290.0C724.2,1290.1 728.7,1290.1 733.2,1290.2C737.6,1290.3 742.1,1290.4 746.5,1290.5C751.0,1290.6 755.4,1290.7 759.9,1290.8C764.3,1291.0 768.8,1291.1 773.3,1291.2C777.7,1291.3 782.2,1291.4 786.6,1291.6C791.1,1291.7 795.5,1291.8 800.0,1291.9C804.5,1292.1 808.9,1292.2 813.4,1292.4C817.8,1292.5 822.3,1292.7 826.7,1292.8C831.2,1293.0 835.7,1293.1 840.3,1293.3C844.8,1293.5 849.3,1293.6 853.8,1293.8C858.3,1294.0 862.9,1294.2 867.4,1294.3C871.9,1294.5 876.4,1294.7 881.0,1294.9C885.5,1295.1 890.0,1295.3 894.5,1295.5C899.1,1295.7 903.6,1295.9 908.1,1296.1C912.6,1296.3 917.2,1296.5 921.7,1296.8C926.2,1297.0 930.7,1297.2 935.3,1297.4C939.8,1297.7 944.3,1297.9 948.8,1298.1C953.3,1298.4 957.9,1298.6 962.4,1298.9C966.9,1299.1 971.4,1299.4 976.0,1299.6C980.5,1299.9 985.0,1300.2 989.5,1300.4C994.1,1300.7 998.6,1301.0 1003.1,1301.3C1007.6,1301.5 1012.1,1301.8 1016.6,1302.1C1021.1,1302.4 1025.5,1302.7 1029.9,1303.0C1034.4,1303.3 1038.8,1303.6 1043.3,1303.9C1047.7,1304.2 1052.1,1304.5 1056.6,1304.8C1061.0,1305.2 1065.5,1305.5 1069.9,1305.8C1074.4,1306.1 1078.8,1306.5 1083.2,1306.8C1087.7,1307.2 1092.1,1307.5 1096.6,1307.8C1101.0,1308.2 1105.5,1308.5 1109.9,1308.9C1114.4,1309.3 1118.8,1309.6 1123.2,1310.0C1127.7,1310.4 1132.1,1310.7 1136.6,1311.1C1141.0,1311.5 1145.5,1311.9 1149.9,1312.3C1154.3,1312.7 1158.8,1313.1 1163.2,1313.5C1167.7,1313.9 1172.1,1314.3 1176.6,1314.7C1181.0,1315.1 1187.7,1315.7 1189.9,1315.9" fill="none" stroke="#111" stroke-width="3.7" stroke-dasharray="4.6 11.4" stroke-linecap="round"/>
<path d="M1189.9,1316.7C1192.1,1317.0 1198.9,1317.7 1203.4,1318.2C1207.9,1318.7 1212.4,1319.2 1216.9,1319.7C1221.4,1320.3 1225.9,1320.8 1230.4,1321.4C1234.9,1321.9 1239.4,1322.5 1243.9,1323.1C1248.4,1323.7 1252.9,1324.3 1257.4,1324.9C1261.8,1325.5 1266.3,1326.1 1270.8,1326.8C1275.3,1327.4 1279.8,1328.1 1284.3,1328.8C1288.8,1329.4 1293.3,1330.1 1297.8,1330.8C1302.3,1331.5 1306.8,1332.3 1311.3,1333.0C1315.8,1333.7 1320.3,1334.5 1324.8,1335.2C1329.3,1336.0 1333.8,1336.8 1338.3,1337.6C1342.8,1338.3 1347.3,1339.2 1351.8,1340.0C1356.3,1340.8 1360.8,1341.6 1365.3,1342.5C1369.8,1343.3 1374.3,1344.2 1378.8,1345.0C1383.3,1345.9 1387.8,1346.8 1392.3,1347.7C1396.8,1348.6 1401.3,1349.5 1405.8,1350.5C1410.3,1351.4 1414.8,1352.3 1419.3,1353.3C1423.8,1354.3 1428.3,1355.2 1432.8,1356.2C1437.3,1357.2 1441.8,1358.2 1446.3,1359.2C1450.8,1360.2 1455.3,1361.3 1459.8,1362.3C1464.3,1363.3 1468.8,1364.4 1473.3,1365.5C1477.8,1366.5 1482.3,1367.6 1486.8,1368.7C1491.3,1369.8 1495.8,1370.9 1500.3,1372.0C1504.8,1373.2 1509.3,1374.3 1513.8,1375.5C1518.3,1376.6 1522.8,1377.8 1527.3,1378.9C1531.8,1380.1 1536.3,1381.3 1540.8,1382.5C1545.3,1383.7 1549.8,1384.9 1554.3,1386.2C1558.8,1387.4 1563.4,1388.7 1567.9,1389.9C1572.4,1391.2 1576.9,1392.4 1581.4,1393.7C1585.9,1395.0 1590.4,1396.3 1594.9,1397.6C1599.4,1398.9 1603.9,1400.3 1608.4,1401.6C1612.9,1402.9 1617.4,1404.3 1621.9,1405.7C1626.4,1407.0 1630.9,1408.4 1635.4,1409.8C1639.9,1411.2 1644.4,1412.6 1648.9,1414.0C1653.4,1415.4 1657.9,1416.8 1662.4,1418.3C1666.9,1419.7 1671.4,1421.2 1675.9,1422.7C1680.4,1424.1 1684.9,1425.6 1689.4,1427.1C1693.9,1428.6 1698.4,1430.1 1702.9,1431.6C1707.4,1433.2 1711.9,1434.7 1716.4,1436.2C1720.9,1437.8 1725.4,1439.3 1729.9,1440.9C1734.4,1442.5 1738.9,1444.1 1743.4,1445.7C1747.8,1447.3 1752.3,1448.9 1756.8,1450.5C1761.3,1452.1 1765.8,1453.8 1770.3,1455.4C1774.7,1457.1 1779.2,1458.7 1783.7,1460.4C1788.2,1462.1 1792.7,1463.8 1797.2,1465.5C1801.7,1467.2 1806.1,1468.9 1810.6,1470.6C1815.1,1472.3 1819.6,1474.1 1824.1,1475.8C1828.6,1477.6 1833.0,1479.3 1837.5,1481.1C1842.0,1482.9 1846.5,1484.7 1851.0,1486.5C1855.5,1488.3 1859.9,1490.1 1864.4,1491.9C1868.9,1493.7 1873.4,1495.6 1877.9,1497.4C1882.4,1499.2 1886.9,1501.1 1891.3,1503.0C1895.8,1504.9 1900.3,1506.7 1904.8,1508.6C1909.3,1510.5 1913.8,1512.4 1918.3,1514.4C1922.7,1516.3 1927.2,1518.2 1931.7,1520.2C1936.2,1522.1 1940.7,1524.1 1945.2,1526.0C1949.7,1528.0 1954.2,1530.0 1958.7,1532.0C1963.2,1534.0 1967.6,1536.0 1972.1,1538.0C1976.6,1540.0 1981.1,1542.0 1985.6,1544.1C1990.1,1546.1 1994.6,1548.2 1999.1,1550.2C2003.6,1552.3 2010.3,1555.4 2012.5,1556.5" fill="none" stroke="#111" stroke-width="3.6" stroke-linecap="round" stroke-linejoin="round"/>
<path d="M652.9,1337.0C655.2,1336.9 661.9,1336.7 666.3,1336.5C670.8,1336.3 675.2,1336.1 679.7,1336.0C684.1,1335.8 688.6,1335.6 693.0,1335.5C697.5,1335.3 702.0,1335.1 706.4,1335.0C710.9,1334.8 715.3,1334.7 719.8,1334.5C724.2,1334.4 728.7,1334.3 733.2,1334.1C737.6,1334.0 742.1,1333.8 746.5,1333.7C751.0,1333.6 755.4,1333.5 759.9,1333.3C764.3,1333.2 768.8,1333.1 773.3,1333.0C777.7,1332.9 782.2,1332.8 786.6,1332.7C791.1,1332.6 795.5,1332.5 800.0,1332.4C804.5,1332.3 808.9,1332.3 813.4,1332.2C817.8,1332.1 822.3,1332.0 826.7,1332.0C831.2,1331.9 835.7,1331.8 840.3,1331.8C844.8,1331.7 849.3,1331.7 853.8,1331.7C858.3,1331.6 862.9,1331.6 867.4,1331.6C871.9,1331.5 876.4,1331.5 881.0,1331.5C885.5,1331.5 890.0,1331.5 894.5,1331.5C899.1,1331.5 903.6,1331.5 908.1,1331.5C912.6,1331.5 917.2,1331.5 921.7,1331.5C926.2,1331.6 930.7,1331.6 935.3,1331.6C939.8,1331.7 944.3,1331.7 948.8,1331.8C953.3,1331.8 957.9,1331.9 962.4,1332.0C966.9,1332.0 971.4,1332.1 976.0,1332.2C980.5,1332.3 985.0,1332.4 989.5,1332.5C994.1,1332.6 998.6,1332.7 1003.1,1332.8C1007.6,1332.9 1012.1,1333.0 1016.6,1333.1C1021.1,1333.3 1025.5,1333.4 1029.9,1333.6C1034.4,1333.7 1038.8,1333.9 1043.3,1334.0C1047.7,1334.2 1052.1,1334.4 1056.6,1334.6C1061.0,1334.7 1065.5,1334.9 1069.9,1335.1C1074.4,1335.3 1078.8,1335.5 1083.2,1335.8C1087.7,1336.0 1092.1,1336.2 1096.6,1336.4C1101.0,1336.7 1105.5,1336.9 1109.9,1337.2C1114.4,1337.4 1118.8,1337.7 1123.2,1338.0C1127.7,1338.2 1132.1,1338.5 1136.6,1338.8C1141.0,1339.1 1145.5,1339.4 1149.9,1339.7C1154.3,1340.0 1158.8,1340.4 1163.2,1340.7C1167.7,1341.0 1172.1,1341.4 1176.6,1341.7C1181.0,1342.1 1187.7,1342.6 1189.9,1342.8" fill="none" stroke="#111" stroke-width="3.7" stroke-dasharray="4.6 11.4" stroke-linecap="round"/>
<path d="M1189.9,1342.8C1192.1,1343.2 1198.9,1344.4 1203.4,1345.1C1207.9,1345.9 1212.4,1346.6 1216.9,1347.3C1221.4,1348.1 1225.9,1348.8 1230.4,1349.6C1234.9,1350.3 1239.4,1351.1 1243.9,1351.8C1248.4,1352.5 1252.9,1353.3 1257.4,1354.0C1261.8,1354.8 1266.3,1355.5 1270.8,1356.2C1275.3,1357.0 1279.8,1357.7 1284.3,1358.5C1288.8,1359.2 1293.3,1359.9 1297.8,1360.7C1302.3,1361.4 1306.8,1362.2 1311.3,1362.9C1315.8,1363.7 1320.3,1364.4 1324.8,1365.2C1329.3,1366.0 1333.8,1366.7 1338.3,1367.5C1342.8,1368.2 1347.3,1369.0 1351.8,1369.8C1356.3,1370.6 1360.8,1371.3 1365.3,1372.1C1369.8,1372.9 1374.3,1373.7 1378.8,1374.5C1383.3,1375.3 1387.8,1376.1 1392.3,1376.9C1396.8,1377.8 1401.3,1378.6 1405.8,1379.4C1410.3,1380.2 1414.8,1381.1 1419.3,1381.9C1423.8,1382.8 1428.3,1383.6 1432.8,1384.5C1437.3,1385.4 1441.8,1386.2 1446.3,1387.1C1450.8,1388.0 1455.3,1388.9 1459.8,1389.8C1464.3,1390.7 1468.8,1391.7 1473.3,1392.6C1477.8,1393.5 1482.3,1394.5 1486.8,1395.4C1491.3,1396.4 1495.8,1397.4 1500.3,1398.3C1504.8,1399.3 1509.3,1400.3 1513.8,1401.3C1518.3,1402.4 1522.8,1403.4 1527.3,1404.4C1531.8,1405.5 1536.3,1406.5 1540.8,1407.6C1545.3,1408.7 1549.8,1409.8 1554.3,1410.9C1558.8,1412.0 1563.4,1413.1 1567.9,1414.3C1572.4,1415.4 1576.9,1416.6 1581.4,1417.7C1585.9,1418.9 1590.4,1420.1 1594.9,1421.3C1599.4,1422.5 1603.9,1423.8 1608.4,1425.0C1612.9,1426.3 1617.4,1427.6 1621.9,1428.9C1626.4,1430.2 1630.9,1431.5 1635.4,1432.8C1639.9,1434.1 1644.4,1435.5 1648.9,1436.9C1653.4,1438.3 1657.9,1439.7 1662.4,1441.1C1666.9,1442.5 1671.4,1444.0 1675.9,1445.4C1680.4,1446.9 1684.9,1448.4 1689.4,1449.9C1693.9,1451.5 1698.4,1453.0 1702.9,1454.6C1707.4,1456.1 1711.9,1457.7 1716.4,1459.4C1720.9,1461.0 1725.4,1462.6 1729.9,1464.3C1734.4,1466.0 1738.9,1467.7 1743.4,1469.4C1747.8,1471.2 1752.3,1472.9 1756.8,1474.7C1761.3,1476.5 1765.8,1478.3 1770.3,1480.1C1774.7,1482.0 1779.2,1483.9 1783.7,1485.8C1788.2,1487.7 1792.7,1489.6 1797.2,1491.6C1801.7,1493.5 1806.1,1495.5 1810.6,1497.5C1815.1,1499.6 1819.6,1501.6 1824.1,1503.7C1828.6,1505.8 1833.0,1507.9 1837.5,1510.1C1842.0,1512.2 1846.5,1514.4 1851.0,1516.6C1855.5,1518.8 1859.9,1521.1 1864.4,1523.4C1868.9,1525.7 1873.4,1528.0 1877.9,1530.4C1882.4,1532.7 1886.9,1535.1 1891.3,1537.5C1895.8,1540.0 1900.3,1542.4 1904.8,1544.9C1909.3,1547.4 1913.8,1550.0 1918.3,1552.6C1922.7,1555.1 1927.2,1557.8 1931.7,1560.4C1936.2,1563.1 1940.7,1565.7 1945.2,1568.5C1949.7,1571.2 1954.2,1574.0 1958.7,1576.8C1963.2,1579.6 1967.6,1582.4 1972.1,1585.3C1976.6,1588.2 1981.1,1591.2 1985.6,1594.1C1990.1,1597.1 1994.6,1600.1 1999.1,1603.2C2003.6,1606.2 2010.3,1610.9 2012.5,1612.5" fill="none" stroke="#111" stroke-width="3.6" stroke-linecap="round" stroke-linejoin="round"/>
<path d="M652.9,1470.2C655.2,1470.2 661.9,1470.3 666.3,1470.4C670.8,1470.4 675.2,1470.5 679.7,1470.5C684.1,1470.5 688.6,1470.6 693.0,1470.6C697.5,1470.6 702.0,1470.7 706.4,1470.7C710.9,1470.7 715.3,1470.7 719.8,1470.7C724.2,1470.8 728.7,1470.8 733.2,1470.8C737.6,1470.8 742.1,1470.8 746.5,1470.8C751.0,1470.8 755.4,1470.8 759.9,1470.8C764.3,1470.9 768.8,1470.9 773.3,1470.9C777.7,1470.9 782.2,1470.9 786.6,1470.9C791.1,1470.9 795.5,1470.9 800.0,1470.9C804.5,1470.9 808.9,1471.0 813.4,1471.0C817.8,1471.0 822.3,1471.0 826.7,1471.0C831.2,1471.1 835.7,1471.1 840.3,1471.1C844.8,1471.1 849.3,1471.2 853.8,1471.2C858.3,1471.3 862.9,1471.3 867.4,1471.3C871.9,1471.4 876.4,1471.4 881.0,1471.5C885.5,1471.6 890.0,1471.6 894.5,1471.7C899.1,1471.8 903.6,1471.9 908.1,1471.9C912.6,1472.0 917.2,1472.1 921.7,1472.2C926.2,1472.3 930.7,1472.4 935.3,1472.6C939.8,1472.7 944.3,1472.8 948.8,1472.9C953.3,1473.1 957.9,1473.2 962.4,1473.4C966.9,1473.5 971.4,1473.7 976.0,1473.9C980.5,1474.1 985.0,1474.3 989.5,1474.5C994.1,1474.7 998.6,1474.9 1003.1,1475.1C1007.6,1475.3 1012.1,1475.5 1016.6,1475.8C1021.1,1476.0 1025.5,1476.3 1029.9,1476.6C1034.4,1476.9 1038.8,1477.2 1043.3,1477.5C1047.7,1477.8 1052.1,1478.1 1056.6,1478.4C1061.0,1478.8 1065.5,1479.1 1069.9,1479.5C1074.4,1479.8 1078.8,1480.2 1083.2,1480.6C1087.7,1481.0 1092.1,1481.4 1096.6,1481.8C1101.0,1482.3 1105.5,1482.7 1109.9,1483.2C1114.4,1483.7 1118.8,1484.1 1123.2,1484.6C1127.7,1485.1 1132.1,1485.7 1136.6,1486.2C1141.0,1486.7 1145.5,1487.3 1149.9,1487.9C1154.3,1488.5 1158.8,1489.1 1163.2,1489.7C1167.7,1490.3 1172.1,1490.9 1176.6,1491.6C1181.0,1492.3 1187.7,1493.3 1189.9,1493.7" fill="none" stroke="#111" stroke-width="3.7" stroke-dasharray="4.6 11.4" stroke-linecap="round"/>
<path d="M1189.9,1494.0C1192.1,1494.2 1198.9,1495.0 1203.4,1495.6C1207.9,1496.1 1212.4,1496.6 1216.9,1497.2C1221.4,1497.7 1225.9,1498.3 1230.4,1498.8C1234.9,1499.4 1239.4,1500.0 1243.9,1500.5C1248.4,1501.1 1252.9,1501.7 1257.4,1502.2C1261.8,1502.8 1266.3,1503.4 1270.8,1504.0C1275.3,1504.6 1279.8,1505.2 1284.3,1505.8C1288.8,1506.4 1293.3,1507.0 1297.8,1507.6C1302.3,1508.2 1306.8,1508.8 1311.3,1509.4C1315.8,1510.0 1320.3,1510.7 1324.8,1511.3C1329.3,1511.9 1333.8,1512.6 1338.3,1513.2C1342.8,1513.9 1347.3,1514.5 1351.8,1515.2C1356.3,1515.8 1360.8,1516.5 1365.3,1517.2C1369.8,1517.8 1374.3,1518.5 1378.8,1519.2C1383.3,1519.9 1387.8,1520.6 1392.3,1521.3C1396.8,1521.9 1401.3,1522.6 1405.8,1523.4C1410.3,1524.1 1414.8,1524.8 1419.3,1525.5C1423.8,1526.2 1428.3,1526.9 1432.8,1527.7C1437.3,1528.4 1441.8,1529.2 1446.3,1529.9C1450.8,1530.6 1455.3,1531.4 1459.8,1532.2C1464.3,1532.9 1468.8,1533.7 1473.3,1534.5C1477.8,1535.2 1482.3,1536.0 1486.8,1536.8C1491.3,1537.6 1495.8,1538.4 1500.3,1539.2C1504.8,1540.0 1509.3,1540.8 1513.8,1541.6C1518.3,1542.5 1522.8,1543.3 1527.3,1544.1C1531.8,1545.0 1536.3,1545.8 1540.8,1546.7C1545.3,1547.5 1549.8,1548.4 1554.3,1549.2C1558.8,1550.1 1563.4,1551.0 1567.9,1551.8C1572.4,1552.7 1576.9,1553.6 1581.4,1554.5C1585.9,1555.4 1590.4,1556.3 1594.9,1557.2C1599.4,1558.1 1603.9,1559.1 1608.4,1560.0C1612.9,1560.9 1617.4,1561.9 1621.9,1562.8C1626.4,1563.7 1630.9,1564.7 1635.4,1565.7C1639.9,1566.6 1644.4,1567.6 1648.9,1568.6C1653.4,1569.6 1657.9,1570.5 1662.4,1571.5C1666.9,1572.5 1671.4,1573.5 1675.9,1574.6C1680.4,1575.6 1684.9,1576.6 1689.4,1577.6C1693.9,1578.7 1698.4,1579.7 1702.9,1580.7C1707.4,1581.8 1711.9,1582.9 1716.4,1583.9C1720.9,1585.0 1725.4,1586.1 1729.9,1587.2C1734.4,1588.2 1738.9,1589.3 1743.4,1590.4C1747.8,1591.5 1752.3,1592.7 1756.8,1593.8C1761.3,1594.9 1765.8,1596.0 1770.3,1597.2C1774.7,1598.3 1779.2,1599.5 1783.7,1600.6C1788.2,1601.8 1792.7,1603.0 1797.2,1604.2C1801.7,1605.3 1806.1,1606.5 1810.6,1607.7C1815.1,1608.9 1819.6,1610.1 1824.1,1611.4C1828.6,1612.6 1833.0,1613.8 1837.5,1615.1C1842.0,1616.3 1846.5,1617.5 1851.0,1618.8C1855.5,1620.1 1859.9,1621.3 1864.4,1622.6C1868.9,1623.9 1873.4,1625.2 1877.9,1626.5C1882.4,1627.8 1886.9,1629.1 1891.3,1630.4C1895.8,1631.8 1900.3,1633.1 1904.8,1634.5C1909.3,1635.8 1913.8,1637.2 1918.3,1638.5C1922.7,1639.9 1927.2,1641.3 1931.7,1642.7C1936.2,1644.0 1940.7,1645.4 1945.2,1646.9C1949.7,1648.3 1954.2,1649.7 1958.7,1651.1C1963.2,1652.5 1967.6,1654.0 1972.1,1655.4C1976.6,1656.9 1981.1,1658.4 1985.6,1659.8C1990.1,1661.3 1994.6,1662.8 1999.1,1664.3C2003.6,1665.8 2010.3,1668.1 2012.5,1668.9" fill="none" stroke="#111" stroke-width="3.6" stroke-linecap="round" stroke-linejoin="round"/>
<path d="M652.9,1495.9C655.2,1496.0 661.9,1496.1 666.3,1496.2C670.8,1496.3 675.2,1496.4 679.7,1496.5C684.1,1496.6 688.6,1496.7 693.0,1496.8C697.5,1496.9 702.0,1497.0 706.4,1497.1C710.9,1497.2 715.3,1497.3 719.8,1497.4C724.2,1497.5 728.7,1497.6 733.2,1497.7C737.6,1497.8 742.1,1497.9 746.5,1498.0C751.0,1498.1 755.4,1498.2 759.9,1498.3C764.3,1498.4 768.8,1498.5 773.3,1498.6C777.7,1498.7 782.2,1498.8 786.6,1498.9C791.1,1499.0 795.5,1499.1 800.0,1499.2C804.5,1499.3 808.9,1499.4 813.4,1499.6C817.8,1499.7 822.3,1499.8 826.7,1499.9C831.2,1500.0 835.7,1500.1 840.3,1500.3C844.8,1500.4 849.3,1500.5 853.8,1500.6C858.3,1500.8 862.9,1500.9 867.4,1501.0C871.9,1501.2 876.4,1501.3 881.0,1501.5C885.5,1501.6 890.0,1501.8 894.5,1501.9C899.1,1502.1 903.6,1502.2 908.1,1502.4C912.6,1502.6 917.2,1502.7 921.7,1502.9C926.2,1503.1 930.7,1503.2 935.3,1503.4C939.8,1503.6 944.3,1503.8 948.8,1504.0C953.3,1504.2 957.9,1504.4 962.4,1504.6C966.9,1504.8 971.4,1505.0 976.0,1505.2C980.5,1505.4 985.0,1505.6 989.5,1505.9C994.1,1506.1 998.6,1506.3 1003.1,1506.6C1007.6,1506.8 1012.1,1507.1 1016.6,1507.3C1021.1,1507.6 1025.5,1507.9 1029.9,1508.1C1034.4,1508.4 1038.8,1508.7 1043.3,1509.0C1047.7,1509.2 1052.1,1509.5 1056.6,1509.8C1061.0,1510.1 1065.5,1510.5 1069.9,1510.8C1074.4,1511.1 1078.8,1511.4 1083.2,1511.8C1087.7,1512.1 1092.1,1512.4 1096.6,1512.8C1101.0,1513.2 1105.5,1513.5 1109.9,1513.9C1114.4,1514.3 1118.8,1514.6 1123.2,1515.0C1127.7,1515.4 1132.1,1515.8 1136.6,1516.2C1141.0,1516.7 1145.5,1517.1 1149.9,1517.5C1154.3,1517.9 1158.8,1518.4 1163.2,1518.8C1167.7,1519.3 1172.1,1519.8 1176.6,1520.2C1181.0,1520.7 1187.7,1521.5 1189.9,1521.7" fill="none" stroke="#111" stroke-width="3.7" stroke-dasharray="4.6 11.4" stroke-linecap="round"/>
<path d="M1189.9,1522.3C1192.1,1522.5 1198.9,1523.3 1203.4,1523.8C1207.9,1524.4 1212.4,1524.9 1216.9,1525.4C1221.4,1525.9 1225.9,1526.5 1230.4,1527.0C1234.9,1527.5 1239.4,1528.1 1243.9,1528.6C1248.4,1529.1 1252.9,1529.7 1257.4,1530.2C1261.8,1530.8 1266.3,1531.3 1270.8,1531.9C1275.3,1532.4 1279.8,1533.0 1284.3,1533.6C1288.8,1534.1 1293.3,1534.7 1297.8,1535.3C1302.3,1535.8 1306.8,1536.4 1311.3,1537.0C1315.8,1537.6 1320.3,1538.2 1324.8,1538.7C1329.3,1539.3 1333.8,1539.9 1338.3,1540.5C1342.8,1541.1 1347.3,1541.8 1351.8,1542.4C1356.3,1543.0 1360.8,1543.6 1365.3,1544.2C1369.8,1544.9 1374.3,1545.5 1378.8,1546.1C1383.3,1546.8 1387.8,1547.4 1392.3,1548.1C1396.8,1548.8 1401.3,1549.4 1405.8,1550.1C1410.3,1550.8 1414.8,1551.4 1419.3,1552.1C1423.8,1552.8 1428.3,1553.5 1432.8,1554.2C1437.3,1554.9 1441.8,1555.6 1446.3,1556.4C1450.8,1557.1 1455.3,1557.8 1459.8,1558.6C1464.3,1559.3 1468.8,1560.1 1473.3,1560.8C1477.8,1561.6 1482.3,1562.4 1486.8,1563.1C1491.3,1563.9 1495.8,1564.7 1500.3,1565.5C1504.8,1566.3 1509.3,1567.1 1513.8,1567.9C1518.3,1568.8 1522.8,1569.6 1527.3,1570.4C1531.8,1571.3 1536.3,1572.1 1540.8,1573.0C1545.3,1573.9 1549.8,1574.7 1554.3,1575.6C1558.8,1576.5 1563.4,1577.4 1567.9,1578.3C1572.4,1579.3 1576.9,1580.2 1581.4,1581.1C1585.9,1582.1 1590.4,1583.0 1594.9,1584.0C1599.4,1584.9 1603.9,1585.9 1608.4,1586.9C1612.9,1587.9 1617.4,1588.9 1621.9,1589.9C1626.4,1590.9 1630.9,1592.0 1635.4,1593.0C1639.9,1594.1 1644.4,1595.1 1648.9,1596.2C1653.4,1597.3 1657.9,1598.4 1662.4,1599.5C1666.9,1600.6 1671.4,1601.7 1675.9,1602.8C1680.4,1604.0 1684.9,1605.1 1689.4,1606.3C1693.9,1607.5 1698.4,1608.6 1702.9,1609.8C1707.4,1611.0 1711.9,1612.3 1716.4,1613.5C1720.9,1614.7 1725.4,1616.0 1729.9,1617.2C1734.4,1618.5 1738.9,1619.8 1743.4,1621.1C1747.8,1622.4 1752.3,1623.7 1756.8,1625.0C1761.3,1626.3 1765.8,1627.7 1770.3,1629.1C1774.7,1630.4 1779.2,1631.8 1783.7,1633.2C1788.2,1634.6 1792.7,1636.0 1797.2,1637.5C1801.7,1638.9 1806.1,1640.4 1810.6,1641.9C1815.1,1643.3 1819.6,1644.8 1824.1,1646.4C1828.6,1647.9 1833.0,1649.4 1837.5,1651.0C1842.0,1652.5 1846.5,1654.1 1851.0,1655.7C1855.5,1657.3 1859.9,1658.9 1864.4,1660.5C1868.9,1662.2 1873.4,1663.8 1877.9,1665.5C1882.4,1667.2 1886.9,1668.9 1891.3,1670.6C1895.8,1672.3 1900.3,1674.1 1904.8,1675.9C1909.3,1677.6 1913.8,1679.4 1918.3,1681.2C1922.7,1683.0 1927.2,1684.8 1931.7,1686.7C1936.2,1688.5 1940.7,1690.4 1945.2,1692.3C1949.7,1694.2 1954.2,1696.1 1958.7,1698.1C1963.2,1700.0 1967.6,1702.0 1972.1,1704.0C1976.6,1706.0 1981.1,1708.0 1985.6,1710.0C1990.1,1712.1 1994.6,1714.1 1999.1,1716.2C2003.6,1718.3 2010.3,1721.5 2012.5,1722.5" fill="none" stroke="#111" stroke-width="3.6" stroke-linecap="round" stroke-linejoin="round"/>
<path d="M652.9,1522.2C655.2,1522.2 661.9,1522.2 666.3,1522.2C670.8,1522.3 675.2,1522.3 679.7,1522.4C684.1,1522.4 688.6,1522.5 693.0,1522.5C697.5,1522.6 702.0,1522.7 706.4,1522.7C710.9,1522.8 715.3,1522.9 719.8,1523.0C724.2,1523.1 728.7,1523.2 733.2,1523.3C737.6,1523.4 742.1,1523.6 746.5,1523.7C751.0,1523.8 755.4,1524.0 759.9,1524.1C764.3,1524.2 768.8,1524.4 773.3,1524.5C777.7,1524.7 782.2,1524.9 786.6,1525.0C791.1,1525.2 795.5,1525.4 800.0,1525.6C804.5,1525.7 808.9,1525.9 813.4,1526.1C817.8,1526.3 822.3,1526.5 826.7,1526.7C831.2,1526.9 835.7,1527.1 840.3,1527.3C844.8,1527.6 849.3,1527.8 853.8,1528.0C858.3,1528.2 862.9,1528.5 867.4,1528.7C871.9,1528.9 876.4,1529.2 881.0,1529.4C885.5,1529.7 890.0,1529.9 894.5,1530.2C899.1,1530.4 903.6,1530.7 908.1,1531.0C912.6,1531.2 917.2,1531.5 921.7,1531.8C926.2,1532.0 930.7,1532.3 935.3,1532.6C939.8,1532.9 944.3,1533.2 948.8,1533.4C953.3,1533.7 957.9,1534.0 962.4,1534.3C966.9,1534.6 971.4,1534.9 976.0,1535.2C980.5,1535.5 985.0,1535.8 989.5,1536.1C994.1,1536.4 998.6,1536.7 1003.1,1537.0C1007.6,1537.3 1012.1,1537.6 1016.6,1537.9C1021.1,1538.2 1025.5,1538.6 1029.9,1538.9C1034.4,1539.2 1038.8,1539.5 1043.3,1539.8C1047.7,1540.1 1052.1,1540.5 1056.6,1540.8C1061.0,1541.1 1065.5,1541.4 1069.9,1541.7C1074.4,1542.1 1078.8,1542.4 1083.2,1542.7C1087.7,1543.0 1092.1,1543.4 1096.6,1543.7C1101.0,1544.0 1105.5,1544.3 1109.9,1544.7C1114.4,1545.0 1118.8,1545.3 1123.2,1545.6C1127.7,1546.0 1132.1,1546.3 1136.6,1546.6C1141.0,1546.9 1145.5,1547.3 1149.9,1547.6C1154.3,1547.9 1158.8,1548.2 1163.2,1548.5C1167.7,1548.9 1172.1,1549.2 1176.6,1549.5C1181.0,1549.8 1187.7,1550.3 1189.9,1550.4" fill="none" stroke="#111" stroke-width="3.7" stroke-dasharray="4.6 11.4" stroke-linecap="round"/>
<path d="M1189.9,1550.8C1192.1,1551.0 1198.9,1551.6 1203.4,1552.0C1207.9,1552.4 1212.4,1552.8 1216.9,1553.3C1221.4,1553.7 1225.9,1554.1 1230.4,1554.5C1234.9,1555.0 1239.4,1555.4 1243.9,1555.8C1248.4,1556.3 1252.9,1556.7 1257.4,1557.2C1261.8,1557.6 1266.3,1558.1 1270.8,1558.5C1275.3,1559.0 1279.8,1559.5 1284.3,1559.9C1288.8,1560.4 1293.3,1560.9 1297.8,1561.3C1302.3,1561.8 1306.8,1562.3 1311.3,1562.8C1315.8,1563.3 1320.3,1563.8 1324.8,1564.3C1329.3,1564.8 1333.8,1565.3 1338.3,1565.8C1342.8,1566.3 1347.3,1566.9 1351.8,1567.4C1356.3,1567.9 1360.8,1568.5 1365.3,1569.0C1369.8,1569.5 1374.3,1570.1 1378.8,1570.7C1383.3,1571.2 1387.8,1571.8 1392.3,1572.4C1396.8,1572.9 1401.3,1573.5 1405.8,1574.1C1410.3,1574.7 1414.8,1575.3 1419.3,1575.9C1423.8,1576.5 1428.3,1577.2 1432.8,1577.8C1437.3,1578.4 1441.8,1579.1 1446.3,1579.7C1450.8,1580.4 1455.3,1581.0 1459.8,1581.7C1464.3,1582.4 1468.8,1583.1 1473.3,1583.8C1477.8,1584.4 1482.3,1585.2 1486.8,1585.9C1491.3,1586.6 1495.8,1587.3 1500.3,1588.0C1504.8,1588.8 1509.3,1589.5 1513.8,1590.3C1518.3,1591.1 1522.8,1591.8 1527.3,1592.6C1531.8,1593.4 1536.3,1594.2 1540.8,1595.0C1545.3,1595.8 1549.8,1596.6 1554.3,1597.5C1558.8,1598.3 1563.4,1599.2 1567.9,1600.0C1572.4,1600.9 1576.9,1601.8 1581.4,1602.7C1585.9,1603.5 1590.4,1604.4 1594.9,1605.4C1599.4,1606.3 1603.9,1607.2 1608.4,1608.2C1612.9,1609.1 1617.4,1610.1 1621.9,1611.0C1626.4,1612.0 1630.9,1613.0 1635.4,1614.0C1639.9,1615.0 1644.4,1616.1 1648.9,1617.1C1653.4,1618.1 1657.9,1619.2 1662.4,1620.3C1666.9,1621.3 1671.4,1622.4 1675.9,1623.5C1680.4,1624.6 1684.9,1625.7 1689.4,1626.9C1693.9,1628.0 1698.4,1629.2 1702.9,1630.3C1707.4,1631.5 1711.9,1632.7 1716.4,1633.9C1720.9,1635.1 1725.4,1636.3 1729.9,1637.6C1734.4,1638.8 1738.9,1640.1 1743.4,1641.3C1747.8,1642.6 1752.3,1643.9 1756.8,1645.2C1761.3,1646.6 1765.8,1647.9 1770.3,1649.2C1774.7,1650.6 1779.2,1652.0 1783.7,1653.4C1788.2,1654.8 1792.7,1656.2 1797.2,1657.6C1801.7,1659.0 1806.1,1660.5 1810.6,1662.0C1815.1,1663.4 1819.6,1664.9 1824.1,1666.4C1828.6,1668.0 1833.0,1669.5 1837.5,1671.1C1842.0,1672.6 1846.5,1674.2 1851.0,1675.8C1855.5,1677.4 1859.9,1679.0 1864.4,1680.6C1868.9,1682.3 1873.4,1684.0 1877.9,1685.6C1882.4,1687.3 1886.9,1689.0 1891.3,1690.8C1895.8,1692.5 1900.3,1694.3 1904.8,1696.0C1909.3,1697.8 1913.8,1699.6 1918.3,1701.4C1922.7,1703.3 1927.2,1705.1 1931.7,1707.0C1936.2,1708.9 1940.7,1710.8 1945.2,1712.7C1949.7,1714.6 1954.2,1716.6 1958.7,1718.5C1963.2,1720.5 1967.6,1722.5 1972.1,1724.5C1976.6,1726.5 1981.1,1728.6 1985.6,1730.6C1990.1,1732.7 1994.6,1734.8 1999.1,1736.9C2003.6,1739.1 2010.3,1742.3 2012.5,1743.4" fill="none" stroke="#111" stroke-width="3.6" stroke-linecap="round" stroke-linejoin="round"/>
<path d="M652.9,1675.9C655.2,1675.9 661.9,1675.9 666.3,1675.9C670.8,1675.9 675.2,1675.9 679.7,1675.9C684.1,1675.9 688.6,1675.9 693.0,1675.9C697.5,1675.9 702.0,1675.9 706.4,1675.9C710.9,1675.9 715.3,1675.9 719.8,1675.9C724.2,1675.9 728.7,1675.9 733.2,1676.0C737.6,1676.0 742.1,1676.0 746.5,1676.0C751.0,1676.1 755.4,1676.1 759.9,1676.1C764.3,1676.2 768.8,1676.2 773.3,1676.3C777.7,1676.3 782.2,1676.4 786.6,1676.4C791.1,1676.5 795.5,1676.5 800.0,1676.6C804.5,1676.6 808.9,1676.7 813.4,1676.8C817.8,1676.8 822.3,1676.9 826.7,1677.0C831.2,1677.1 835.7,1677.1 840.3,1677.2C844.8,1677.3 849.3,1677.4 853.8,1677.5C858.3,1677.6 862.9,1677.7 867.4,1677.8C871.9,1677.9 876.4,1678.0 881.0,1678.1C885.5,1678.2 890.0,1678.3 894.5,1678.4C899.1,1678.6 903.6,1678.7 908.1,1678.8C912.6,1678.9 917.2,1679.1 921.7,1679.2C926.2,1679.3 930.7,1679.5 935.3,1679.6C939.8,1679.8 944.3,1679.9 948.8,1680.1C953.3,1680.2 957.9,1680.4 962.4,1680.5C966.9,1680.7 971.4,1680.9 976.0,1681.1C980.5,1681.2 985.0,1681.4 989.5,1681.6C994.1,1681.8 998.6,1682.0 1003.1,1682.2C1007.6,1682.3 1012.1,1682.5 1016.6,1682.7C1021.1,1683.0 1025.5,1683.2 1029.9,1683.4C1034.4,1683.6 1038.8,1683.8 1043.3,1684.0C1047.7,1684.3 1052.1,1684.5 1056.6,1684.7C1061.0,1684.9 1065.5,1685.2 1069.9,1685.4C1074.4,1685.7 1078.8,1685.9 1083.2,1686.2C1087.7,1686.4 1092.1,1686.7 1096.6,1687.0C1101.0,1687.2 1105.5,1687.5 1109.9,1687.8C1114.4,1688.1 1118.8,1688.3 1123.2,1688.6C1127.7,1688.9 1132.1,1689.2 1136.6,1689.5C1141.0,1689.8 1145.5,1690.1 1149.9,1690.4C1154.3,1690.7 1158.8,1691.0 1163.2,1691.4C1167.7,1691.7 1172.1,1692.0 1176.6,1692.3C1181.0,1692.7 1187.7,1693.2 1189.9,1693.4" fill="none" stroke="#111" stroke-width="3.7" stroke-dasharray="4.6 11.4" stroke-linecap="round"/>
<path d="M1189.9,1693.6C1192.1,1693.8 1198.9,1694.3 1203.4,1694.7C1207.9,1695.0 1212.4,1695.4 1216.9,1695.7C1221.4,1696.1 1225.9,1696.4 1230.4,1696.8C1234.9,1697.1 1239.4,1697.5 1243.9,1697.8C1248.4,1698.2 1252.9,1698.5 1257.4,1698.9C1261.8,1699.2 1266.3,1699.6 1270.8,1699.9C1275.3,1700.3 1279.8,1700.7 1284.3,1701.0C1288.8,1701.4 1293.3,1701.7 1297.8,1702.1C1302.3,1702.4 1306.8,1702.8 1311.3,1703.1C1315.8,1703.5 1320.3,1703.9 1324.8,1704.2C1329.3,1704.6 1333.8,1704.9 1338.3,1705.3C1342.8,1705.7 1347.3,1706.0 1351.8,1706.4C1356.3,1706.8 1360.8,1707.1 1365.3,1707.5C1369.8,1707.9 1374.3,1708.2 1378.8,1708.6C1383.3,1709.0 1387.8,1709.4 1392.3,1709.7C1396.8,1710.1 1401.3,1710.5 1405.8,1710.9C1410.3,1711.2 1414.8,1711.6 1419.3,1712.0C1423.8,1712.4 1428.3,1712.8 1432.8,1713.1C1437.3,1713.5 1441.8,1713.9 1446.3,1714.3C1450.8,1714.7 1455.3,1715.1 1459.8,1715.5C1464.3,1715.9 1468.8,1716.3 1473.3,1716.7C1477.8,1717.1 1482.3,1717.5 1486.8,1717.9C1491.3,1718.3 1495.8,1718.7 1500.3,1719.1C1504.8,1719.5 1509.3,1719.9 1513.8,1720.3C1518.3,1720.7 1522.8,1721.1 1527.3,1721.6C1531.8,1722.0 1536.3,1722.4 1540.8,1722.8C1545.3,1723.3 1549.8,1723.7 1554.3,1724.1C1558.8,1724.5 1563.4,1725.0 1567.9,1725.4C1572.4,1725.9 1576.9,1726.3 1581.4,1726.7C1585.9,1727.2 1590.4,1727.6 1594.9,1728.1C1599.4,1728.5 1603.9,1729.0 1608.4,1729.4C1612.9,1729.9 1617.4,1730.4 1621.9,1730.8C1626.4,1731.3 1630.9,1731.8 1635.4,1732.2C1639.9,1732.7 1644.4,1733.2 1648.9,1733.7C1653.4,1734.1 1657.9,1734.6 1662.4,1735.1C1666.9,1735.6 1671.4,1736.1 1675.9,1736.6C1680.4,1737.1 1684.9,1737.6 1689.4,1738.1C1693.9,1738.6 1698.4,1739.1 1702.9,1739.6C1707.4,1740.1 1711.9,1740.7 1716.4,1741.2C1720.9,1741.7 1725.4,1742.2 1729.9,1742.8C1734.4,1743.3 1738.9,1743.8 1743.4,1744.4C1747.8,1744.9 1752.3,1745.5 1756.8,1746.0C1761.3,1746.6 1765.8,1747.1 1770.3,1747.7C1774.7,1748.2 1779.2,1748.8 1783.7,1749.4C1788.2,1750.0 1792.7,1750.5 1797.2,1751.1C1801.7,1751.7 1806.1,1752.3 1810.6,1752.9C1815.1,1753.5 1819.6,1754.1 1824.1,1754.7C1828.6,1755.3 1833.0,1755.9 1837.5,1756.5C1842.0,1757.1 1846.5,1757.7 1851.0,1758.4C1855.5,1759.0 1859.9,1759.6 1864.4,1760.3C1868.9,1760.9 1873.4,1761.6 1877.9,1762.2C1882.4,1762.9 1886.9,1763.5 1891.3,1764.2C1895.8,1764.8 1900.3,1765.5 1904.8,1766.2C1909.3,1766.9 1913.8,1767.5 1918.3,1768.2C1922.7,1768.9 1927.2,1769.6 1931.7,1770.3C1936.2,1771.0 1940.7,1771.7 1945.2,1772.4C1949.7,1773.1 1954.2,1773.9 1958.7,1774.6C1963.2,1775.3 1967.6,1776.1 1972.1,1776.8C1976.6,1777.5 1981.1,1778.3 1985.6,1779.0C1990.1,1779.8 1994.6,1780.6 1999.1,1781.3C2003.6,1782.1 2010.3,1783.3 2012.5,1783.6" fill="none" stroke="#111" stroke-width="3.6" stroke-linecap="round" stroke-linejoin="round"/>
<path d="M652.9,1701.8C655.2,1701.8 661.9,1701.8 666.3,1701.8C670.8,1701.8 675.2,1701.9 679.7,1701.9C684.1,1701.9 688.6,1702.0 693.0,1702.0C697.5,1702.1 702.0,1702.1 706.4,1702.2C710.9,1702.2 715.3,1702.3 719.8,1702.4C724.2,1702.4 728.7,1702.5 733.2,1702.6C737.6,1702.6 742.1,1702.7 746.5,1702.8C751.0,1702.9 755.4,1703.0 759.9,1703.1C764.3,1703.2 768.8,1703.3 773.3,1703.4C777.7,1703.5 782.2,1703.6 786.6,1703.7C791.1,1703.8 795.5,1704.0 800.0,1704.1C804.5,1704.2 808.9,1704.3 813.4,1704.5C817.8,1704.6 822.3,1704.7 826.7,1704.9C831.2,1705.0 835.7,1705.2 840.3,1705.3C844.8,1705.5 849.3,1705.6 853.8,1705.8C858.3,1705.9 862.9,1706.1 867.4,1706.3C871.9,1706.4 876.4,1706.6 881.0,1706.8C885.5,1707.0 890.0,1707.1 894.5,1707.3C899.1,1707.5 903.6,1707.7 908.1,1707.9C912.6,1708.1 917.2,1708.2 921.7,1708.4C926.2,1708.6 930.7,1708.8 935.3,1709.0C939.8,1709.2 944.3,1709.4 948.8,1709.6C953.3,1709.9 957.9,1710.1 962.4,1710.3C966.9,1710.5 971.4,1710.7 976.0,1710.9C980.5,1711.1 985.0,1711.4 989.5,1711.6C994.1,1711.8 998.6,1712.0 1003.1,1712.3C1007.6,1712.5 1012.1,1712.7 1016.6,1713.0C1021.1,1713.2 1025.5,1713.4 1029.9,1713.7C1034.4,1713.9 1038.8,1714.2 1043.3,1714.4C1047.7,1714.6 1052.1,1714.9 1056.6,1715.1C1061.0,1715.4 1065.5,1715.6 1069.9,1715.9C1074.4,1716.1 1078.8,1716.4 1083.2,1716.7C1087.7,1716.9 1092.1,1717.2 1096.6,1717.4C1101.0,1717.7 1105.5,1717.9 1109.9,1718.2C1114.4,1718.5 1118.8,1718.7 1123.2,1719.0C1127.7,1719.3 1132.1,1719.5 1136.6,1719.8C1141.0,1720.1 1145.5,1720.3 1149.9,1720.6C1154.3,1720.9 1158.8,1721.2 1163.2,1721.4C1167.7,1721.7 1172.1,1722.0 1176.6,1722.3C1181.0,1722.5 1187.7,1722.9 1189.9,1723.1" fill="none" stroke="#111" stroke-width="3.7" stroke-dasharray="4.6 11.4" stroke-linecap="round"/>
<path d="M1189.9,1722.7C1192.1,1722.8 1198.9,1723.3 1203.4,1723.6C1207.9,1723.9 1212.4,1724.2 1216.9,1724.5C1221.4,1724.8 1225.9,1725.1 1230.4,1725.4C1234.9,1725.7 1239.4,1726.0 1243.9,1726.3C1248.4,1726.7 1252.9,1727.0 1257.4,1727.2C1261.8,1727.5 1266.3,1727.8 1270.8,1728.1C1275.3,1728.4 1279.8,1728.7 1284.3,1729.0C1288.8,1729.3 1293.3,1729.6 1297.8,1729.9C1302.3,1730.2 1306.8,1730.5 1311.3,1730.8C1315.8,1731.1 1320.3,1731.4 1324.8,1731.7C1329.3,1732.0 1333.8,1732.3 1338.3,1732.6C1342.8,1732.9 1347.3,1733.2 1351.8,1733.5C1356.3,1733.8 1360.8,1734.1 1365.3,1734.4C1369.8,1734.8 1374.3,1735.1 1378.8,1735.4C1383.3,1735.7 1387.8,1736.0 1392.3,1736.3C1396.8,1736.6 1401.3,1737.0 1405.8,1737.3C1410.3,1737.6 1414.8,1737.9 1419.3,1738.3C1423.8,1738.6 1428.3,1738.9 1432.8,1739.3C1437.3,1739.6 1441.8,1739.9 1446.3,1740.3C1450.8,1740.6 1455.3,1741.0 1459.8,1741.3C1464.3,1741.7 1468.8,1742.0 1473.3,1742.4C1477.8,1742.7 1482.3,1743.1 1486.8,1743.5C1491.3,1743.8 1495.8,1744.2 1500.3,1744.6C1504.8,1745.0 1509.3,1745.4 1513.8,1745.7C1518.3,1746.1 1522.8,1746.5 1527.3,1746.9C1531.8,1747.3 1536.3,1747.7 1540.8,1748.2C1545.3,1748.6 1549.8,1749.0 1554.3,1749.4C1558.8,1749.8 1563.4,1750.3 1567.9,1750.7C1572.4,1751.2 1576.9,1751.6 1581.4,1752.1C1585.9,1752.5 1590.4,1753.0 1594.9,1753.4C1599.4,1753.9 1603.9,1754.4 1608.4,1754.9C1612.9,1755.4 1617.4,1755.9 1621.9,1756.4C1626.4,1756.9 1630.9,1757.4 1635.4,1757.9C1639.9,1758.4 1644.4,1758.9 1648.9,1759.5C1653.4,1760.0 1657.9,1760.5 1662.4,1761.1C1666.9,1761.6 1671.4,1762.2 1675.9,1762.8C1680.4,1763.4 1684.9,1763.9 1689.4,1764.5C1693.9,1765.1 1698.4,1765.7 1702.9,1766.3C1707.4,1766.9 1711.9,1767.6 1716.4,1768.2C1720.9,1768.8 1725.4,1769.5 1729.9,1770.1C1734.4,1770.8 1738.9,1771.5 1743.4,1772.1C1747.8,1772.8 1752.3,1773.5 1756.8,1774.2C1761.3,1774.9 1765.8,1775.6 1770.3,1776.3C1774.7,1777.1 1779.2,1777.8 1783.7,1778.5C1788.2,1779.3 1792.7,1780.1 1797.2,1780.8C1801.7,1781.6 1806.1,1782.4 1810.6,1783.2C1815.1,1784.0 1819.6,1784.8 1824.1,1785.6C1828.6,1786.4 1833.0,1787.3 1837.5,1788.1C1842.0,1789.0 1846.5,1789.9 1851.0,1790.7C1855.5,1791.6 1859.9,1792.5 1864.4,1793.4C1868.9,1794.3 1873.4,1795.2 1877.9,1796.2C1882.4,1797.1 1886.9,1798.1 1891.3,1799.0C1895.8,1800.0 1900.3,1801.0 1904.8,1802.0C1909.3,1803.0 1913.8,1804.0 1918.3,1805.0C1922.7,1806.0 1927.2,1807.1 1931.7,1808.1C1936.2,1809.2 1940.7,1810.3 1945.2,1811.4C1949.7,1812.5 1954.2,1813.6 1958.7,1814.7C1963.2,1815.8 1967.6,1817.0 1972.1,1818.1C1976.6,1819.3 1981.1,1820.5 1985.6,1821.6C1990.1,1822.8 1994.6,1824.1 1999.1,1825.3C2003.6,1826.5 2010.3,1828.4 2012.5,1829.0" fill="none" stroke="#111" stroke-width="3.6" stroke-linecap="round" stroke-linejoin="round"/>
<path d="M1181.0,525.3C1182.5,524.4 1186.9,521.7 1189.9,519.9C1192.9,518.1 1195.9,516.4 1198.8,514.6C1201.8,512.9 1204.8,511.1 1207.8,509.4C1210.7,507.7 1213.7,506.0 1216.7,504.3C1219.7,502.6 1222.7,500.9 1225.6,499.3C1228.6,497.6 1231.6,495.9 1234.6,494.3C1237.6,492.7 1240.5,491.0 1243.5,489.4C1246.5,487.8 1249.5,486.2 1252.4,484.6C1255.4,483.1 1258.4,481.5 1261.4,480.0C1264.4,478.4 1267.3,476.9 1270.3,475.4C1273.3,473.8 1276.3,472.3 1279.2,470.9C1282.2,469.4 1285.2,467.9 1288.2,466.4C1291.2,465.0 1294.1,463.6 1297.1,462.1C1300.1,460.7 1303.1,459.3 1306.1,457.9C1309.0,456.5 1312.0,455.2 1315.0,453.8C1318.0,452.5 1320.9,451.1 1323.9,449.8C1326.9,448.5 1329.9,447.2 1332.9,445.9C1335.8,444.6 1338.8,443.3 1341.8,442.1C1344.8,440.8 1347.8,439.6 1350.7,438.4C1353.7,437.2 1356.7,436.0 1359.7,434.8C1362.6,433.6 1365.6,432.4 1368.6,431.3C1371.6,430.1 1374.6,429.0 1377.5,427.9C1380.5,426.8 1383.5,425.7 1386.5,424.6C1389.5,423.6 1392.5,422.5 1395.4,421.5C1398.4,420.5 1401.4,419.4 1404.4,418.5C1407.4,417.5 1410.3,416.5 1413.3,415.5C1416.3,414.6 1419.3,413.6 1422.3,412.7C1425.3,411.8 1428.2,410.9 1431.2,410.0C1434.2,409.2 1437.2,408.3 1440.2,407.5C1443.1,406.6 1446.1,405.8 1449.1,405.0C1452.1,404.2 1455.1,403.5 1458.0,402.7C1461.0,402.0 1464.0,401.2 1467.0,400.5C1470.0,399.8 1473.0,399.1 1475.9,398.5C1478.9,397.8 1481.9,397.1 1484.9,396.5C1487.9,395.9 1490.8,395.3 1493.8,394.7C1496.8,394.1 1499.8,393.6 1502.8,393.0C1505.8,392.5 1508.7,392.0 1511.7,391.5C1514.7,391.0 1517.7,390.5 1520.7,390.1C1523.6,389.6 1526.6,389.2 1529.6,388.8C1532.6,388.4 1535.6,388.0 1538.6,387.6C1541.5,387.3 1544.5,387.0 1547.5,386.6C1550.5,386.3 1553.5,386.0 1556.4,385.8C1559.4,385.5 1562.4,385.3 1565.4,385.1C1568.4,384.8 1571.4,384.6 1574.3,384.5C1577.3,384.3 1580.3,384.2 1583.3,384.0C1586.3,383.9 1589.2,383.8 1592.2,383.8C1595.2,383.7 1598.2,383.6 1601.2,383.6C1604.2,383.6 1607.1,383.6 1610.1,383.6C1613.1,383.7 1616.1,383.7 1619.1,383.8C1622.0,383.9 1625.0,384.0 1628.0,384.1C1631.0,384.2 1634.0,384.4 1637.0,384.6C1639.9,384.7 1642.9,385.0 1645.9,385.2C1648.9,385.4 1651.9,385.7 1654.8,386.0C1657.8,386.3 1660.8,386.6 1663.8,386.9C1666.8,387.2 1669.7,387.6 1672.7,388.0C1675.7,388.4 1678.7,388.8 1681.7,389.3C1684.7,389.7 1687.6,390.2 1690.6,390.7C1693.6,391.2 1696.6,391.7 1699.6,392.3C1702.5,392.8 1705.5,393.4 1708.5,394.0C1711.5,394.6 1714.5,395.3 1717.5,395.9C1720.4,396.6 1723.4,397.3 1726.4,398.0C1729.4,398.7 1732.3,399.5 1735.3,400.3C1738.3,401.0 1741.2,401.8 1744.2,402.7C1747.2,403.5 1750.2,404.4 1753.1,405.3C1756.1,406.2 1759.1,407.1 1762.0,408.1C1765.0,409.0 1768.0,410.0 1771.0,411.0C1773.9,412.0 1776.9,413.1 1779.9,414.1C1782.8,415.2 1785.8,416.3 1788.8,417.4C1791.7,418.6 1794.7,419.7 1797.7,420.9C1800.7,422.1 1803.6,423.3 1806.6,424.6C1809.6,425.8 1812.5,427.1 1815.5,428.5C1818.5,429.8 1821.4,431.1 1824.4,432.6C1827.4,434.0 1830.3,435.4 1833.3,437.0C1836.3,438.5 1839.3,440.1 1842.2,441.7C1845.2,443.4 1848.2,445.1 1851.1,447.0C1854.1,448.8 1857.1,450.7 1860.0,452.7C1863.0,454.7 1866.0,456.8 1869.0,459.0C1871.9,461.2 1874.9,463.5 1877.9,466.0C1880.8,468.4 1883.8,471.0 1886.8,473.7C1889.8,476.3 1892.7,479.1 1895.7,482.1C1898.7,485.1 1901.6,488.1 1904.6,491.4C1907.6,494.7 1910.5,498.0 1913.5,501.6C1916.5,505.2 1919.5,508.9 1922.4,512.8C1925.4,516.7 1928.4,520.8 1931.4,525.1C1934.3,529.3 1937.3,533.8 1940.3,538.5C1943.3,543.1 1946.2,548.0 1949.2,553.1C1952.2,558.2 1955.1,563.5 1958.1,569.1C1961.1,574.6 1964.1,580.4 1967.0,586.5C1970.0,592.6 1973.0,598.9 1976.0,605.6C1978.9,612.2 1981.9,619.1 1984.9,626.4C1987.9,633.7 1990.8,641.3 1993.8,649.2C1996.8,657.2 1999.7,665.5 2002.7,674.2C2005.7,682.9 2010.2,696.9 2011.6,701.4" fill="none" stroke="#111" stroke-width="3.6" stroke-linecap="round"/>
<text x="689.5" y="210.9" font-size="33.3">MVS-220-08A</text>
<text x="697.8" y="392.9" font-size="33.3">MVS-220-07</text>
<text x="697.6" y="467.4" font-size="33.3">MVS-220-07B</text>
<text x="695.3" y="626.8" font-size="33.3">MVS-220-06</text>
<text x="712.1" y="695.7" font-size="33.3">MVS-220-06B</text>
<text x="705.4" y="843.2" font-size="33.3">MVS-220-05</text>
<text x="706.9" y="878.6" font-size="33.3">MVS-220-05A</text>
<text x="720.8" y="919.7" font-size="33.3">MVS-220-05B</text>
<text x="720.8" y="1046.1" font-size="33.3">MVS-220-04</text>
<text x="721.3" y="1081.4" font-size="33.3">MVS-220-04A</text>
<text x="733.0" y="1124.9" font-size="33.3">MVS-220-04B</text>
<text x="717.9" y="1259.7" font-size="33.3">MVS-220-03</text>
<text x="718.5" y="1297.4" font-size="33.3">MVS-220-03A</text>
<text x="730.1" y="1339.1" font-size="33.3">MVS-220-03B</text>
<text x="686.6" y="1452.2" font-size="33.3">MVS-220-02</text>
<text x="689.5" y="1487.8" font-size="33.3">MVS-220-02A</text>
<text x="701.1" y="1529.0" font-size="33.3">MVS-220-02B</text>
<text x="688.9" y="1663.8" font-size="33.3">MVS-220-01</text>
<text x="692.3" y="1700.0" font-size="33.3">MVS-220-01A</text>
<text class="big" x="1460" y="2380" font-size="91.5" textLength="672" lengthAdjust="spacingAndGlyphs" stroke="#fff" stroke-width="0.9">HECHO EN INDIA</text>
<defs>
<clipPath id="fc"><circle cx="2336.5" cy="2329.2" r="115.6"/></clipPath>
<radialGradient id="rimO" cx="2336.5" cy="2329.2" r="115.6" gradientUnits="userSpaceOnUse">
 <stop offset="0.55" stop-color="#ffa030"/><stop offset="0.85" stop-color="#d89a30"/><stop offset="0.97" stop-color="#a87a30"/><stop offset="1" stop-color="#8a6a40"/></radialGradient>
<radialGradient id="rimG" cx="2336.5" cy="2329.2" r="115.6" gradientUnits="userSpaceOnUse">
 <stop offset="0.78" stop-color="#079c22"/><stop offset="0.92" stop-color="#068a1e"/><stop offset="1" stop-color="#05601a"/></radialGradient>
<radialGradient id="rimW" cx="2336.5" cy="2329.2" r="115.6" gradientUnits="userSpaceOnUse">
 <stop offset="0.62" stop-color="#ffffff"/><stop offset="0.85" stop-color="#e6e6e6"/><stop offset="0.97" stop-color="#a8a8a8"/><stop offset="1" stop-color="#909090"/></radialGradient>
<linearGradient id="hl" x1="0" y1="2227" x2="0" y2="2295" gradientUnits="userSpaceOnUse">
 <stop offset="0" stop-color="#ceb488"/><stop offset="0.55" stop-color="#fc9c70"/><stop offset="1" stop-color="#fd9450"/></linearGradient>
<clipPath id="ob"><rect x="2200" y="2200" width="280" height="90.69999999999982"/></clipPath>
</defs>
<g clip-path="url(#fc)">
<rect x="2215" y="2205" width="245" height="86.19999999999982" fill="url(#rimO)"/>
<ellipse cx="2336.5" cy="2300" rx="83" ry="72.5" fill="url(#hl)" clip-path="url(#ob)"/>
<rect x="2215" y="2290.7" width="245" height="77.60000000000036" fill="url(#rimW)"/>
<rect x="2215" y="2368.3" width="245" height="81.69999999999982" fill="url(#rimG)"/>
</g>
<circle cx="2336.5" cy="2329.2" r="115.3" fill="none" stroke="#8c8c8c" stroke-width="1.2" opacity="0.7"/>
<circle cx="2335.4" cy="2329.5" r="32.6" fill="none" stroke="#14128c" stroke-width="4.6"/>
<circle cx="2335.4" cy="2329.5" r="6" fill="#06038d"/>

<polygon fill="#06038d" points="2341.40,2329.95 2349.40,2330.55 2365.90,2329.75 2365.90,2329.25 2349.40,2328.45 2341.40,2329.05"/>
<circle cx="2365.54" cy="2333.47" r="1.3" fill="#14128c"/>
<polygon fill="#06038d" points="2341.08,2331.49 2348.65,2334.14 2364.80,2337.64 2364.93,2337.15 2349.19,2332.11 2341.31,2330.62"/>
<circle cx="2363.49" cy="2341.13" r="1.3" fill="#14128c"/>
<polygon fill="#06038d" points="2340.37,2332.89 2347.00,2337.41 2361.69,2344.97 2361.94,2344.53 2348.05,2335.59 2340.82,2332.11"/>
<circle cx="2359.52" cy="2348.01" r="1.3" fill="#14128c"/>
<polygon fill="#06038d" points="2339.32,2334.06 2344.56,2340.14 2356.79,2351.24 2357.14,2350.89 2346.04,2338.66 2339.96,2333.42"/>
<circle cx="2353.91" cy="2353.62" r="1.3" fill="#14128c"/>
<polygon fill="#06038d" points="2338.01,2334.92 2341.49,2342.15 2350.43,2356.04 2350.87,2355.79 2343.31,2341.10 2338.79,2334.47"/>
<circle cx="2347.03" cy="2357.59" r="1.3" fill="#14128c"/>
<polygon fill="#06038d" points="2336.52,2335.41 2338.01,2343.29 2343.05,2359.03 2343.54,2358.90 2340.04,2342.75 2337.39,2335.18"/>
<circle cx="2339.37" cy="2359.64" r="1.3" fill="#14128c"/>
<polygon fill="#06038d" points="2334.95,2335.50 2334.35,2343.50 2335.15,2360.00 2335.65,2360.00 2336.45,2343.50 2335.85,2335.50"/>
<circle cx="2331.43" cy="2359.64" r="1.3" fill="#14128c"/>
<polygon fill="#06038d" points="2333.41,2335.18 2330.76,2342.75 2327.26,2358.90 2327.75,2359.03 2332.79,2343.29 2334.28,2335.41"/>
<circle cx="2323.77" cy="2357.59" r="1.3" fill="#14128c"/>
<polygon fill="#06038d" points="2332.01,2334.47 2327.49,2341.10 2319.93,2355.79 2320.37,2356.04 2329.31,2342.15 2332.79,2334.92"/>
<circle cx="2316.89" cy="2353.62" r="1.3" fill="#14128c"/>
<polygon fill="#06038d" points="2330.84,2333.42 2324.76,2338.66 2313.66,2350.89 2314.01,2351.24 2326.24,2340.14 2331.48,2334.06"/>
<circle cx="2311.28" cy="2348.01" r="1.3" fill="#14128c"/>
<polygon fill="#06038d" points="2329.98,2332.11 2322.75,2335.59 2308.86,2344.53 2309.11,2344.97 2323.80,2337.41 2330.43,2332.89"/>
<circle cx="2307.31" cy="2341.13" r="1.3" fill="#14128c"/>
<polygon fill="#06038d" points="2329.49,2330.62 2321.61,2332.11 2305.87,2337.15 2306.00,2337.64 2322.15,2334.14 2329.72,2331.49"/>
<circle cx="2305.26" cy="2333.47" r="1.3" fill="#14128c"/>
<polygon fill="#06038d" points="2329.40,2329.05 2321.40,2328.45 2304.90,2329.25 2304.90,2329.75 2321.40,2330.55 2329.40,2329.95"/>
<circle cx="2305.26" cy="2325.53" r="1.3" fill="#14128c"/>
<polygon fill="#06038d" points="2329.72,2327.51 2322.15,2324.86 2306.00,2321.36 2305.87,2321.85 2321.61,2326.89 2329.49,2328.38"/>
<circle cx="2307.31" cy="2317.87" r="1.3" fill="#14128c"/>
<polygon fill="#06038d" points="2330.43,2326.11 2323.80,2321.59 2309.11,2314.03 2308.86,2314.47 2322.75,2323.41 2329.98,2326.89"/>
<circle cx="2311.28" cy="2310.99" r="1.3" fill="#14128c"/>
<polygon fill="#06038d" points="2331.48,2324.94 2326.24,2318.86 2314.01,2307.76 2313.66,2308.11 2324.76,2320.34 2330.84,2325.58"/>
<circle cx="2316.89" cy="2305.38" r="1.3" fill="#14128c"/>
<polygon fill="#06038d" points="2332.79,2324.08 2329.31,2316.85 2320.37,2302.96 2319.93,2303.21 2327.49,2317.90 2332.01,2324.53"/>
<circle cx="2323.77" cy="2301.41" r="1.3" fill="#14128c"/>
<polygon fill="#06038d" points="2334.28,2323.59 2332.79,2315.71 2327.75,2299.97 2327.26,2300.10 2330.76,2316.25 2333.41,2323.82"/>
<circle cx="2331.43" cy="2299.36" r="1.3" fill="#14128c"/>
<polygon fill="#06038d" points="2335.85,2323.50 2336.45,2315.50 2335.65,2299.00 2335.15,2299.00 2334.35,2315.50 2334.95,2323.50"/>
<circle cx="2339.37" cy="2299.36" r="1.3" fill="#14128c"/>
<polygon fill="#06038d" points="2337.39,2323.82 2340.04,2316.25 2343.54,2300.10 2343.05,2299.97 2338.01,2315.71 2336.52,2323.59"/>
<circle cx="2347.03" cy="2301.41" r="1.3" fill="#14128c"/>
<polygon fill="#06038d" points="2338.79,2324.53 2343.31,2317.90 2350.87,2303.21 2350.43,2302.96 2341.49,2316.85 2338.01,2324.08"/>
<circle cx="2353.91" cy="2305.38" r="1.3" fill="#14128c"/>
<polygon fill="#06038d" points="2339.96,2325.58 2346.04,2320.34 2357.14,2308.11 2356.79,2307.76 2344.56,2318.86 2339.32,2324.94"/>
<circle cx="2359.52" cy="2310.99" r="1.3" fill="#14128c"/>
<polygon fill="#06038d" points="2340.82,2326.89 2348.05,2323.41 2361.94,2314.47 2361.69,2314.03 2347.00,2321.59 2340.37,2326.11"/>
<circle cx="2363.49" cy="2317.87" r="1.3" fill="#14128c"/>
<polygon fill="#06038d" points="2341.31,2328.38 2349.19,2326.89 2364.93,2321.85 2364.80,2321.36 2348.65,2324.86 2341.08,2327.51"/>
<circle cx="2365.54" cy="2325.53" r="1.3" fill="#14128c"/>
</svg></body></html>
